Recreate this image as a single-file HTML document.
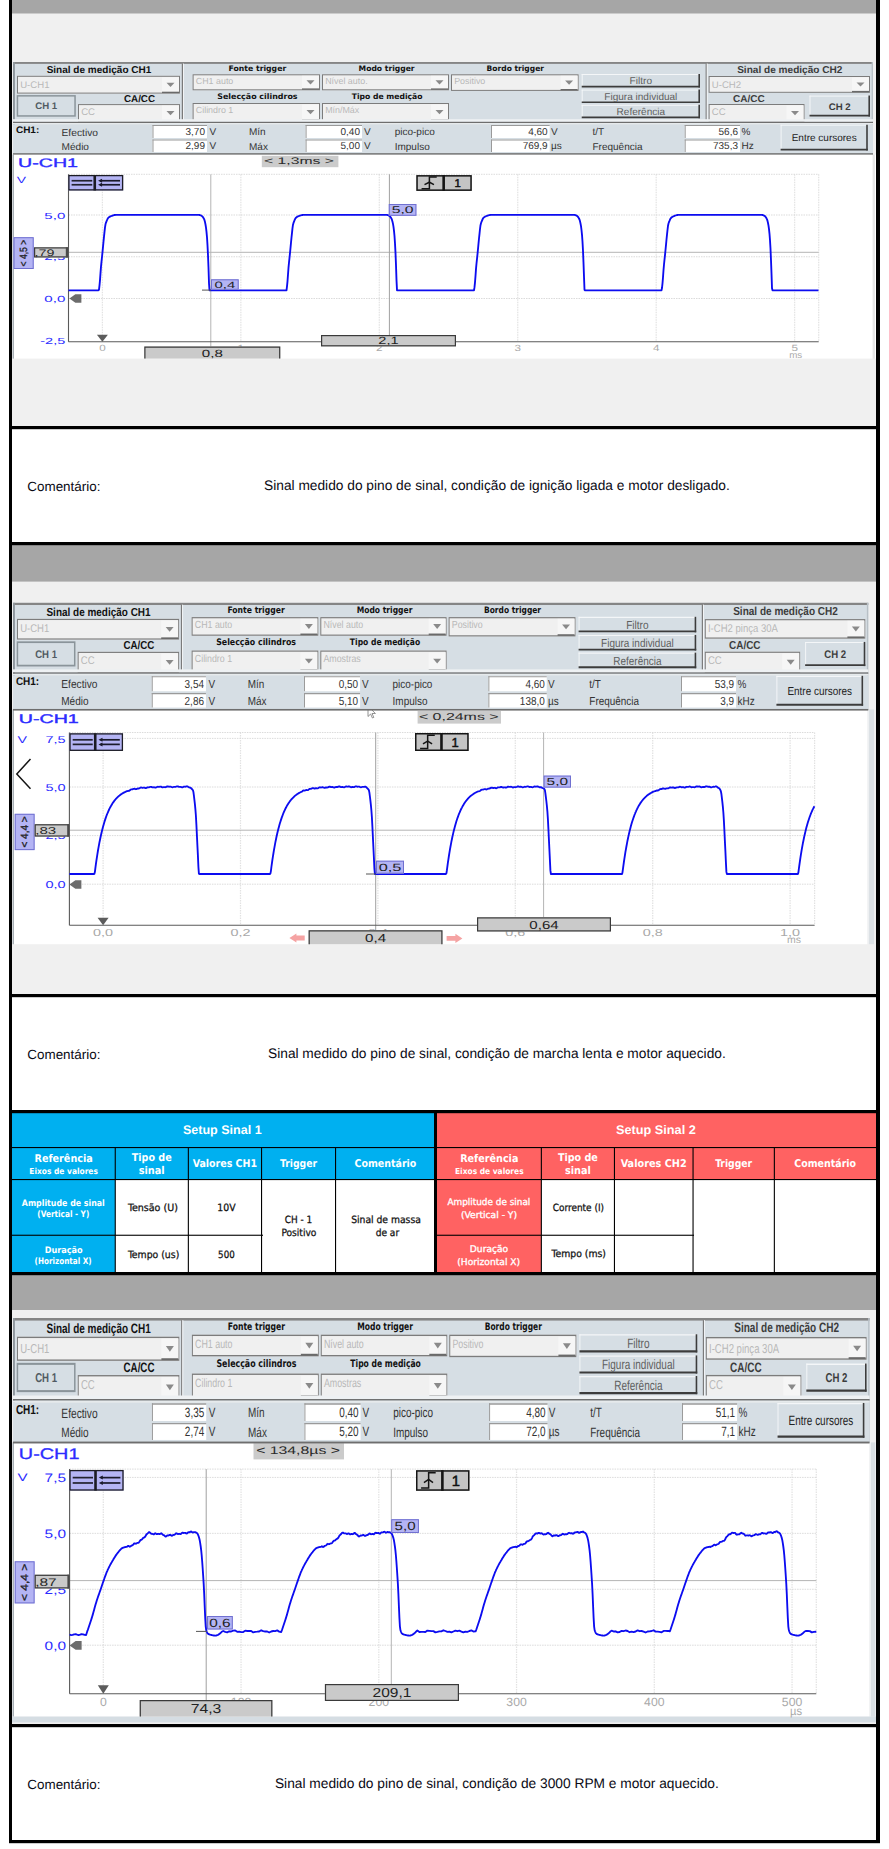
<!DOCTYPE html>
<html lang="pt"><head><meta charset="utf-8"><title>Sinal medido</title>
<style>
html,body{margin:0;padding:0;background:#fff;}
#pg{position:relative;width:889px;height:1849px;overflow:hidden;background:#fff;}
#pg svg{position:absolute;left:0;top:0;display:block;}

</style></head><body><div id="pg">
<svg width="889" height="1849" viewBox="0 0 889 1849" text-rendering="geometricPrecision">
<rect x="12.00" y="0.00" width="864.00" height="426.00" fill="#f0f0f0"/><rect x="12.00" y="0.00" width="864.00" height="13.50" fill="#a6a6a6"/><rect x="12.00" y="545.00" width="864.00" height="449.00" fill="#f0f0f0"/><rect x="12.00" y="545.00" width="864.00" height="36.60" fill="#a6a6a6"/><rect x="12.00" y="1275.00" width="864.00" height="449.00" fill="#f0f0f0"/><rect x="12.00" y="1275.00" width="864.00" height="35.00" fill="#a6a6a6"/><rect x="12.00" y="154.60" width="864.00" height="204.00" fill="#f0f0f0"/><rect x="14.00" y="154.60" width="858.70" height="204.00" fill="#ffffff"/><rect x="12.60" y="154.60" width="1.40" height="204.00" fill="#a8b0b6"/><rect x="872.70" y="154.60" width="2.30" height="204.00" fill="#e6e6e6"/><rect x="875.00" y="154.60" width="1.00" height="204.00" fill="#ffffff"/><line x1="68.50" y1="174.30" x2="818.70" y2="174.30" stroke="#cfcfcf" stroke-width="1" stroke-dasharray="1.5 1" stroke-opacity="0.75"/><line x1="68.50" y1="215.00" x2="818.70" y2="215.00" stroke="#cfcfcf" stroke-width="1" stroke-dasharray="1.5 1" stroke-opacity="0.75"/><line x1="68.50" y1="256.75" x2="818.70" y2="256.75" stroke="#cfcfcf" stroke-width="1" stroke-dasharray="1.5 1" stroke-opacity="0.75"/><line x1="68.50" y1="298.50" x2="818.70" y2="298.50" stroke="#cfcfcf" stroke-width="1" stroke-dasharray="1.5 1" stroke-opacity="0.75"/><line x1="102.40" y1="174.30" x2="102.40" y2="341.80" stroke="#d8d8d8" stroke-width="1.2" stroke-dasharray="1.5 1" stroke-opacity="0.75"/><line x1="240.85" y1="174.30" x2="240.85" y2="341.80" stroke="#d8d8d8" stroke-width="1.2" stroke-dasharray="1.5 1" stroke-opacity="0.75"/><line x1="379.30" y1="174.30" x2="379.30" y2="341.80" stroke="#d8d8d8" stroke-width="1.2" stroke-dasharray="1.5 1" stroke-opacity="0.75"/><line x1="517.75" y1="174.30" x2="517.75" y2="341.80" stroke="#d8d8d8" stroke-width="1.2" stroke-dasharray="1.5 1" stroke-opacity="0.75"/><line x1="656.20" y1="174.30" x2="656.20" y2="341.80" stroke="#d8d8d8" stroke-width="1.2" stroke-dasharray="1.5 1" stroke-opacity="0.75"/><line x1="794.65" y1="174.30" x2="794.65" y2="341.80" stroke="#d8d8d8" stroke-width="1.2" stroke-dasharray="1.5 1" stroke-opacity="0.75"/><line x1="818.70" y1="174.30" x2="818.70" y2="341.80" stroke="#d8d8d8" stroke-width="1.2" stroke-dasharray="1.5 1" stroke-opacity="0.75"/><line x1="68.50" y1="252.30" x2="818.70" y2="252.30" stroke="#b4b4b4" stroke-width="1"/><line x1="210.80" y1="174.30" x2="210.80" y2="346.50" stroke="#b4b4b4" stroke-width="1"/><line x1="389.40" y1="174.30" x2="389.40" y2="335.00" stroke="#a0a0a0" stroke-width="1"/><line x1="68.50" y1="174.30" x2="68.50" y2="341.80" stroke="#5a5a5a" stroke-width="1.1"/><line x1="68.50" y1="341.80" x2="818.70" y2="341.80" stroke="#5a5a5a" stroke-width="1.1"/><text x="18.00" y="166.80" font-size="12.3" fill="#2c2cff" font-family="Liberation Sans, Arial, sans-serif" textLength="60.00" lengthAdjust="spacingAndGlyphs" stroke="#2c2cff" stroke-width="0.35">U-CH1</text><rect x="261.80" y="155.80" width="76.60" height="11.40" fill="#cbcbcb"/><text x="264.00" y="164.40" font-size="9.5" fill="#2a2a2a" font-family="Liberation Sans, Arial, sans-serif" textLength="70.00" lengthAdjust="spacingAndGlyphs">&lt; 1,3ms &gt;</text><text x="16.70" y="183.00" font-size="9" fill="#2c2cff" font-family="Liberation Sans, Arial, sans-serif" textLength="9.30" lengthAdjust="spacingAndGlyphs">V</text><text x="65.30" y="218.57" font-size="8.8" fill="#2c2cff" font-family="Liberation Sans, Arial, sans-serif" text-anchor="end" textLength="21.00" lengthAdjust="spacingAndGlyphs">5,0</text><text x="65.30" y="260.32" font-size="8.8" fill="#2c2cff" font-family="Liberation Sans, Arial, sans-serif" text-anchor="end" textLength="21.00" lengthAdjust="spacingAndGlyphs">2,5</text><text x="65.30" y="301.87" font-size="8.8" fill="#2c2cff" font-family="Liberation Sans, Arial, sans-serif" text-anchor="end" textLength="21.00" lengthAdjust="spacingAndGlyphs">0,0</text><text x="65.30" y="343.77" font-size="8.8" fill="#2c2cff" font-family="Liberation Sans, Arial, sans-serif" text-anchor="end" textLength="25.00" lengthAdjust="spacingAndGlyphs">-2,5</text><text x="102.40" y="350.90" font-size="9" fill="#a9a9a9" font-family="Liberation Sans, Arial, sans-serif" text-anchor="middle" textLength="6.50" lengthAdjust="spacingAndGlyphs">0</text><text x="240.85" y="350.90" font-size="9" fill="#a9a9a9" font-family="Liberation Sans, Arial, sans-serif" text-anchor="middle" textLength="6.50" lengthAdjust="spacingAndGlyphs">1</text><text x="379.30" y="350.90" font-size="9" fill="#a9a9a9" font-family="Liberation Sans, Arial, sans-serif" text-anchor="middle" textLength="6.50" lengthAdjust="spacingAndGlyphs">2</text><text x="517.75" y="350.90" font-size="9" fill="#a9a9a9" font-family="Liberation Sans, Arial, sans-serif" text-anchor="middle" textLength="6.50" lengthAdjust="spacingAndGlyphs">3</text><text x="656.20" y="350.90" font-size="9" fill="#a9a9a9" font-family="Liberation Sans, Arial, sans-serif" text-anchor="middle" textLength="6.50" lengthAdjust="spacingAndGlyphs">4</text><text x="794.65" y="350.90" font-size="9" fill="#a9a9a9" font-family="Liberation Sans, Arial, sans-serif" text-anchor="middle" textLength="6.50" lengthAdjust="spacingAndGlyphs">5</text><text x="795.65" y="357.60" font-size="9" fill="#a9a9a9" font-family="Liberation Sans, Arial, sans-serif" text-anchor="middle" textLength="13.00" lengthAdjust="spacingAndGlyphs">ms</text><polyline points="68.5,290.3 69.0,290.3 69.5,290.3 70.0,290.3 70.5,290.3 71.0,290.3 71.5,290.3 72.0,290.3 72.5,290.3 73.0,290.3 73.5,290.3 74.0,290.3 74.5,290.3 75.0,290.3 75.5,290.3 76.0,290.3 76.5,290.3 77.0,290.3 77.5,290.3 78.0,290.3 78.5,290.3 79.0,290.3 79.5,290.3 80.0,290.3 80.5,290.3 81.0,290.3 81.5,290.3 82.0,290.3 82.5,290.3 83.0,290.3 83.5,290.3 84.0,290.3 84.5,290.3 85.0,290.3 85.5,290.3 86.0,290.3 86.5,290.3 87.0,290.3 87.5,290.3 88.0,290.3 88.5,290.3 89.0,290.3 89.5,290.3 90.0,290.3 90.5,290.3 91.0,290.3 91.5,290.3 92.0,290.3 92.5,290.3 93.0,290.3 93.5,290.3 94.0,290.3 94.5,290.3 95.0,290.3 95.5,290.3 96.0,290.3 96.5,290.3 97.0,290.3 97.5,290.3 98.0,290.3 98.5,290.3 99.0,289.6 99.5,285.3 100.0,280.1 100.5,273.1 101.0,266.6 101.5,261.6 102.0,257.0 102.5,252.1 103.0,246.9 103.5,241.6 104.0,236.6 104.5,231.9 105.0,227.3 105.5,224.3 106.0,222.6 106.5,221.3 107.0,220.2 107.5,219.0 108.0,218.2 108.5,217.7 109.0,217.2 109.5,216.9 110.0,216.6 110.5,216.4 111.0,216.2 111.5,216.0 112.0,215.8 112.5,215.6 113.0,215.4 113.5,215.3 114.0,215.1 114.5,215.0 115.0,215.0 115.5,214.9 116.0,214.9 116.5,214.9 117.0,214.9 117.5,214.9 118.0,214.9 118.5,214.9 119.0,214.9 119.5,214.9 120.0,214.9 120.5,214.9 121.0,214.9 121.5,214.9 122.0,214.9 122.5,214.9 123.0,214.9 123.5,214.9 124.0,214.9 124.5,214.9 125.0,214.9 125.5,214.9 126.0,214.9 126.5,214.9 127.0,214.9 127.5,214.9 128.0,214.9 128.5,214.9 129.0,214.9 129.5,214.9 130.0,214.9 130.5,214.9 131.0,214.9 131.5,214.9 132.0,214.9 132.5,214.9 133.0,214.9 133.5,214.9 134.0,214.9 134.5,214.9 135.0,214.9 135.5,214.9 136.0,214.9 136.5,214.9 137.0,214.9 137.5,214.9 138.0,214.9 138.5,214.9 139.0,214.9 139.5,214.9 140.0,214.9 140.5,214.9 141.0,214.9 141.5,214.9 142.0,214.9 142.5,214.9 143.0,214.9 143.5,214.9 144.0,214.9 144.5,214.9 145.0,214.9 145.5,214.9 146.0,214.9 146.5,214.9 147.0,214.9 147.5,214.9 148.0,214.9 148.5,214.9 149.0,214.9 149.5,214.9 150.0,214.9 150.5,214.9 151.0,214.9 151.5,214.9 152.0,214.9 152.5,214.9 153.0,214.9 153.5,214.9 154.0,214.9 154.5,214.9 155.0,214.9 155.5,214.9 156.0,214.9 156.5,214.9 157.0,214.9 157.5,214.9 158.0,214.9 158.5,214.9 159.0,214.9 159.5,214.9 160.0,214.9 160.5,214.9 161.0,214.9 161.5,214.9 162.0,214.9 162.5,214.9 163.0,214.9 163.5,214.9 164.0,214.9 164.5,214.9 165.0,214.9 165.5,214.9 166.0,214.9 166.5,214.9 167.0,214.9 167.5,214.9 168.0,214.9 168.5,214.9 169.0,214.9 169.5,214.9 170.0,214.9 170.5,214.9 171.0,214.9 171.5,214.9 172.0,214.9 172.5,214.9 173.0,214.9 173.5,214.9 174.0,214.9 174.5,214.9 175.0,214.9 175.5,214.9 176.0,214.9 176.5,214.9 177.0,214.9 177.5,214.9 178.0,214.9 178.5,214.9 179.0,214.9 179.5,214.9 180.0,214.9 180.5,214.9 181.0,214.9 181.5,214.9 182.0,214.9 182.5,214.9 183.0,214.9 183.5,214.9 184.0,214.9 184.5,214.9 185.0,214.9 185.5,214.9 186.0,214.9 186.5,214.9 187.0,214.9 187.5,214.9 188.0,214.9 188.5,214.9 189.0,214.9 189.5,214.9 190.0,214.9 190.5,214.9 191.0,214.9 191.5,214.9 192.0,214.9 192.5,214.9 193.0,214.9 193.5,214.9 194.0,214.9 194.5,214.9 195.0,214.9 195.5,214.9 196.0,214.9 196.5,214.9 197.0,214.9 197.5,214.9 198.0,214.9 198.5,214.9 199.0,214.9 199.5,215.0 200.0,215.1 200.5,215.3 201.0,215.5 201.5,215.7 202.0,216.1 202.5,216.6 203.0,217.2 203.5,218.0 204.0,218.9 204.5,220.2 205.0,222.1 205.5,224.5 206.0,227.6 206.5,231.8 207.0,237.3 207.5,245.2 208.0,255.3 208.5,267.7 209.0,283.3 209.5,290.3 210.0,290.3 210.5,290.3 211.0,290.3 211.5,290.3 212.0,290.3 212.5,290.3 213.0,290.3 213.5,290.3 214.0,290.3 214.5,290.3 215.0,290.3 215.5,290.3 216.0,290.3 216.5,290.3 217.0,290.3 217.5,290.3 218.0,290.3 218.5,290.3 219.0,290.3 219.5,290.3 220.0,290.3 220.5,290.3 221.0,290.3 221.5,290.3 222.0,290.3 222.5,290.3 223.0,290.3 223.5,290.3 224.0,290.3 224.5,290.3 225.0,290.3 225.5,290.3 226.0,290.3 226.5,290.3 227.0,290.3 227.5,290.3 228.0,290.3 228.5,290.3 229.0,290.3 229.5,290.3 230.0,290.3 230.5,290.3 231.0,290.3 231.5,290.3 232.0,290.3 232.5,290.3 233.0,290.3 233.5,290.3 234.0,290.3 234.5,290.3 235.0,290.3 235.5,290.3 236.0,290.3 236.5,290.3 237.0,290.3 237.5,290.3 238.0,290.3 238.5,290.3 239.0,290.3 239.5,290.3 240.0,290.3 240.5,290.3 241.0,290.3 241.5,290.3 242.0,290.3 242.5,290.3 243.0,290.3 243.5,290.3 244.0,290.3 244.5,290.3 245.0,290.3 245.5,290.3 246.0,290.3 246.5,290.3 247.0,290.3 247.5,290.3 248.0,290.3 248.5,290.3 249.0,290.3 249.5,290.3 250.0,290.3 250.5,290.3 251.0,290.3 251.5,290.3 252.0,290.3 252.5,290.3 253.0,290.3 253.5,290.3 254.0,290.3 254.5,290.3 255.0,290.3 255.5,290.3 256.0,290.3 256.5,290.3 257.0,290.3 257.5,290.3 258.0,290.3 258.5,290.3 259.0,290.3 259.5,290.3 260.0,290.3 260.5,290.3 261.0,290.3 261.5,290.3 262.0,290.3 262.5,290.3 263.0,290.3 263.5,290.3 264.0,290.3 264.5,290.3 265.0,290.3 265.5,290.3 266.0,290.3 266.5,290.3 267.0,290.3 267.5,290.3 268.0,290.3 268.5,290.3 269.0,290.3 269.5,290.3 270.0,290.3 270.5,290.3 271.0,290.3 271.5,290.3 272.0,290.3 272.5,290.3 273.0,290.3 273.5,290.3 274.0,290.3 274.5,290.3 275.0,290.3 275.5,290.3 276.0,290.3 276.5,290.3 277.0,290.3 277.5,290.3 278.0,290.3 278.5,290.3 279.0,290.3 279.5,290.3 280.0,290.3 280.5,290.3 281.0,290.3 281.5,290.3 282.0,290.3 282.5,290.3 283.0,290.3 283.5,290.3 284.0,290.3 284.5,290.3 285.0,290.3 285.5,290.3 286.0,290.3 286.5,290.3 287.0,286.3 287.5,281.3 288.0,274.5 288.5,267.7 289.0,262.5 289.5,257.9 290.0,253.1 290.5,247.9 291.0,242.7 291.5,237.5 292.0,232.8 292.5,228.1 293.0,224.7 293.5,222.9 294.0,221.6 294.5,220.4 295.0,219.2 295.5,218.3 296.0,217.7 296.5,217.3 297.0,216.9 297.5,216.6 298.0,216.4 298.5,216.2 299.0,216.0 299.5,215.8 300.0,215.6 300.5,215.4 301.0,215.3 301.5,215.2 302.0,215.0 302.5,215.0 303.0,214.9 303.5,214.9 304.0,214.9 304.5,214.9 305.0,214.9 305.5,214.9 306.0,214.9 306.5,214.9 307.0,214.9 307.5,214.9 308.0,214.9 308.5,214.9 309.0,214.9 309.5,214.9 310.0,214.9 310.5,214.9 311.0,214.9 311.5,214.9 312.0,214.9 312.5,214.9 313.0,214.9 313.5,214.9 314.0,214.9 314.5,214.9 315.0,214.9 315.5,214.9 316.0,214.9 316.5,214.9 317.0,214.9 317.5,214.9 318.0,214.9 318.5,214.9 319.0,214.9 319.5,214.9 320.0,214.9 320.5,214.9 321.0,214.9 321.5,214.9 322.0,214.9 322.5,214.9 323.0,214.9 323.5,214.9 324.0,214.9 324.5,214.9 325.0,214.9 325.5,214.9 326.0,214.9 326.5,214.9 327.0,214.9 327.5,214.9 328.0,214.9 328.5,214.9 329.0,214.9 329.5,214.9 330.0,214.9 330.5,214.9 331.0,214.9 331.5,214.9 332.0,214.9 332.5,214.9 333.0,214.9 333.5,214.9 334.0,214.9 334.5,214.9 335.0,214.9 335.5,214.9 336.0,214.9 336.5,214.9 337.0,214.9 337.5,214.9 338.0,214.9 338.5,214.9 339.0,214.9 339.5,214.9 340.0,214.9 340.5,214.9 341.0,214.9 341.5,214.9 342.0,214.9 342.5,214.9 343.0,214.9 343.5,214.9 344.0,214.9 344.5,214.9 345.0,214.9 345.5,214.9 346.0,214.9 346.5,214.9 347.0,214.9 347.5,214.9 348.0,214.9 348.5,214.9 349.0,214.9 349.5,214.9 350.0,214.9 350.5,214.9 351.0,214.9 351.5,214.9 352.0,214.9 352.5,214.9 353.0,214.9 353.5,214.9 354.0,214.9 354.5,214.9 355.0,214.9 355.5,214.9 356.0,214.9 356.5,214.9 357.0,214.9 357.5,214.9 358.0,214.9 358.5,214.9 359.0,214.9 359.5,214.9 360.0,214.9 360.5,214.9 361.0,214.9 361.5,214.9 362.0,214.9 362.5,214.9 363.0,214.9 363.5,214.9 364.0,214.9 364.5,214.9 365.0,214.9 365.5,214.9 366.0,214.9 366.5,214.9 367.0,214.9 367.5,214.9 368.0,214.9 368.5,214.9 369.0,214.9 369.5,214.9 370.0,214.9 370.5,214.9 371.0,214.9 371.5,214.9 372.0,214.9 372.5,214.9 373.0,214.9 373.5,214.9 374.0,214.9 374.5,214.9 375.0,214.9 375.5,214.9 376.0,214.9 376.5,214.9 377.0,214.9 377.5,214.9 378.0,214.9 378.5,214.9 379.0,214.9 379.5,214.9 380.0,214.9 380.5,214.9 381.0,214.9 381.5,214.9 382.0,214.9 382.5,214.9 383.0,214.9 383.5,214.9 384.0,214.9 384.5,214.9 385.0,214.9 385.5,214.9 386.0,214.9 386.5,214.9 387.0,214.9 387.5,215.0 388.0,215.2 388.5,215.4 389.0,215.7 389.5,216.0 390.0,216.4 390.5,217.0 391.0,217.8 391.5,218.7 392.0,219.9 392.5,221.7 393.0,223.9 393.5,226.9 394.0,230.9 394.5,236.0 395.0,243.5 395.5,252.9 396.0,265.2 396.5,280.1 397.0,290.3 397.5,290.3 398.0,290.3 398.5,290.3 399.0,290.3 399.5,290.3 400.0,290.3 400.5,290.3 401.0,290.3 401.5,290.3 402.0,290.3 402.5,290.3 403.0,290.3 403.5,290.3 404.0,290.3 404.5,290.3 405.0,290.3 405.5,290.3 406.0,290.3 406.5,290.3 407.0,290.3 407.5,290.3 408.0,290.3 408.5,290.3 409.0,290.3 409.5,290.3 410.0,290.3 410.5,290.3 411.0,290.3 411.5,290.3 412.0,290.3 412.5,290.3 413.0,290.3 413.5,290.3 414.0,290.3 414.5,290.3 415.0,290.3 415.5,290.3 416.0,290.3 416.5,290.3 417.0,290.3 417.5,290.3 418.0,290.3 418.5,290.3 419.0,290.3 419.5,290.3 420.0,290.3 420.5,290.3 421.0,290.3 421.5,290.3 422.0,290.3 422.5,290.3 423.0,290.3 423.5,290.3 424.0,290.3 424.5,290.3 425.0,290.3 425.5,290.3 426.0,290.3 426.5,290.3 427.0,290.3 427.5,290.3 428.0,290.3 428.5,290.3 429.0,290.3 429.5,290.3 430.0,290.3 430.5,290.3 431.0,290.3 431.5,290.3 432.0,290.3 432.5,290.3 433.0,290.3 433.5,290.3 434.0,290.3 434.5,290.3 435.0,290.3 435.5,290.3 436.0,290.3 436.5,290.3 437.0,290.3 437.5,290.3 438.0,290.3 438.5,290.3 439.0,290.3 439.5,290.3 440.0,290.3 440.5,290.3 441.0,290.3 441.5,290.3 442.0,290.3 442.5,290.3 443.0,290.3 443.5,290.3 444.0,290.3 444.5,290.3 445.0,290.3 445.5,290.3 446.0,290.3 446.5,290.3 447.0,290.3 447.5,290.3 448.0,290.3 448.5,290.3 449.0,290.3 449.5,290.3 450.0,290.3 450.5,290.3 451.0,290.3 451.5,290.3 452.0,290.3 452.5,290.3 453.0,290.3 453.5,290.3 454.0,290.3 454.5,290.3 455.0,290.3 455.5,290.3 456.0,290.3 456.5,290.3 457.0,290.3 457.5,290.3 458.0,290.3 458.5,290.3 459.0,290.3 459.5,290.3 460.0,290.3 460.5,290.3 461.0,290.3 461.5,290.3 462.0,290.3 462.5,290.3 463.0,290.3 463.5,290.3 464.0,290.3 464.5,290.3 465.0,290.3 465.5,290.3 466.0,290.3 466.5,290.3 467.0,290.3 467.5,290.3 468.0,290.3 468.5,290.3 469.0,290.3 469.5,290.3 470.0,290.3 470.5,290.3 471.0,290.3 471.5,290.3 472.0,290.3 472.5,290.3 473.0,290.3 473.5,290.3 474.0,290.3 474.5,287.2 475.0,282.3 475.5,276.0 476.0,268.9 476.5,263.5 477.0,258.8 477.5,254.1 478.0,249.0 478.5,243.7 479.0,238.5 479.5,233.8 480.0,229.0 480.5,225.2 481.0,223.2 481.5,221.8 482.0,220.6 482.5,219.5 483.0,218.4 483.5,217.8 484.0,217.4 484.5,217.0 485.0,216.7 485.5,216.5 486.0,216.2 486.5,216.0 487.0,215.8 487.5,215.6 488.0,215.5 488.5,215.3 489.0,215.2 489.5,215.1 490.0,215.0 490.5,214.9 491.0,214.9 491.5,214.9 492.0,214.9 492.5,214.9 493.0,214.9 493.5,214.9 494.0,214.9 494.5,214.9 495.0,214.9 495.5,214.9 496.0,214.9 496.5,214.9 497.0,214.9 497.5,214.9 498.0,214.9 498.5,214.9 499.0,214.9 499.5,214.9 500.0,214.9 500.5,214.9 501.0,214.9 501.5,214.9 502.0,214.9 502.5,214.9 503.0,214.9 503.5,214.9 504.0,214.9 504.5,214.9 505.0,214.9 505.5,214.9 506.0,214.9 506.5,214.9 507.0,214.9 507.5,214.9 508.0,214.9 508.5,214.9 509.0,214.9 509.5,214.9 510.0,214.9 510.5,214.9 511.0,214.9 511.5,214.9 512.0,214.9 512.5,214.9 513.0,214.9 513.5,214.9 514.0,214.9 514.5,214.9 515.0,214.9 515.5,214.9 516.0,214.9 516.5,214.9 517.0,214.9 517.5,214.9 518.0,214.9 518.5,214.9 519.0,214.9 519.5,214.9 520.0,214.9 520.5,214.9 521.0,214.9 521.5,214.9 522.0,214.9 522.5,214.9 523.0,214.9 523.5,214.9 524.0,214.9 524.5,214.9 525.0,214.9 525.5,214.9 526.0,214.9 526.5,214.9 527.0,214.9 527.5,214.9 528.0,214.9 528.5,214.9 529.0,214.9 529.5,214.9 530.0,214.9 530.5,214.9 531.0,214.9 531.5,214.9 532.0,214.9 532.5,214.9 533.0,214.9 533.5,214.9 534.0,214.9 534.5,214.9 535.0,214.9 535.5,214.9 536.0,214.9 536.5,214.9 537.0,214.9 537.5,214.9 538.0,214.9 538.5,214.9 539.0,214.9 539.5,214.9 540.0,214.9 540.5,214.9 541.0,214.9 541.5,214.9 542.0,214.9 542.5,214.9 543.0,214.9 543.5,214.9 544.0,214.9 544.5,214.9 545.0,214.9 545.5,214.9 546.0,214.9 546.5,214.9 547.0,214.9 547.5,214.9 548.0,214.9 548.5,214.9 549.0,214.9 549.5,214.9 550.0,214.9 550.5,214.9 551.0,214.9 551.5,214.9 552.0,214.9 552.5,214.9 553.0,214.9 553.5,214.9 554.0,214.9 554.5,214.9 555.0,214.9 555.5,214.9 556.0,214.9 556.5,214.9 557.0,214.9 557.5,214.9 558.0,214.9 558.5,214.9 559.0,214.9 559.5,214.9 560.0,214.9 560.5,214.9 561.0,214.9 561.5,214.9 562.0,214.9 562.5,214.9 563.0,214.9 563.5,214.9 564.0,214.9 564.5,214.9 565.0,214.9 565.5,214.9 566.0,214.9 566.5,214.9 567.0,214.9 567.5,214.9 568.0,214.9 568.5,214.9 569.0,214.9 569.5,214.9 570.0,214.9 570.5,214.9 571.0,214.9 571.5,214.9 572.0,214.9 572.5,214.9 573.0,214.9 573.5,214.9 574.0,214.9 574.5,214.9 575.0,215.0 575.5,215.2 576.0,215.4 576.5,215.6 577.0,215.9 577.5,216.3 578.0,216.9 578.5,217.6 579.0,218.5 579.5,219.6 580.0,221.3 580.5,223.5 581.0,226.2 581.5,230.0 582.0,234.8 582.5,241.8 583.0,250.8 583.5,262.7 584.0,276.8 584.5,289.8 585.0,290.3 585.5,290.3 586.0,290.3 586.5,290.3 587.0,290.3 587.5,290.3 588.0,290.3 588.5,290.3 589.0,290.3 589.5,290.3 590.0,290.3 590.5,290.3 591.0,290.3 591.5,290.3 592.0,290.3 592.5,290.3 593.0,290.3 593.5,290.3 594.0,290.3 594.5,290.3 595.0,290.3 595.5,290.3 596.0,290.3 596.5,290.3 597.0,290.3 597.5,290.3 598.0,290.3 598.5,290.3 599.0,290.3 599.5,290.3 600.0,290.3 600.5,290.3 601.0,290.3 601.5,290.3 602.0,290.3 602.5,290.3 603.0,290.3 603.5,290.3 604.0,290.3 604.5,290.3 605.0,290.3 605.5,290.3 606.0,290.3 606.5,290.3 607.0,290.3 607.5,290.3 608.0,290.3 608.5,290.3 609.0,290.3 609.5,290.3 610.0,290.3 610.5,290.3 611.0,290.3 611.5,290.3 612.0,290.3 612.5,290.3 613.0,290.3 613.5,290.3 614.0,290.3 614.5,290.3 615.0,290.3 615.5,290.3 616.0,290.3 616.5,290.3 617.0,290.3 617.5,290.3 618.0,290.3 618.5,290.3 619.0,290.3 619.5,290.3 620.0,290.3 620.5,290.3 621.0,290.3 621.5,290.3 622.0,290.3 622.5,290.3 623.0,290.3 623.5,290.3 624.0,290.3 624.5,290.3 625.0,290.3 625.5,290.3 626.0,290.3 626.5,290.3 627.0,290.3 627.5,290.3 628.0,290.3 628.5,290.3 629.0,290.3 629.5,290.3 630.0,290.3 630.5,290.3 631.0,290.3 631.5,290.3 632.0,290.3 632.5,290.3 633.0,290.3 633.5,290.3 634.0,290.3 634.5,290.3 635.0,290.3 635.5,290.3 636.0,290.3 636.5,290.3 637.0,290.3 637.5,290.3 638.0,290.3 638.5,290.3 639.0,290.3 639.5,290.3 640.0,290.3 640.5,290.3 641.0,290.3 641.5,290.3 642.0,290.3 642.5,290.3 643.0,290.3 643.5,290.3 644.0,290.3 644.5,290.3 645.0,290.3 645.5,290.3 646.0,290.3 646.5,290.3 647.0,290.3 647.5,290.3 648.0,290.3 648.5,290.3 649.0,290.3 649.5,290.3 650.0,290.3 650.5,290.3 651.0,290.3 651.5,290.3 652.0,290.3 652.5,290.3 653.0,290.3 653.5,290.3 654.0,290.3 654.5,290.3 655.0,290.3 655.5,290.3 656.0,290.3 656.5,290.3 657.0,290.3 657.5,290.3 658.0,290.3 658.5,290.3 659.0,290.3 659.5,290.3 660.0,290.3 660.5,290.3 661.0,290.3 661.5,290.3 662.0,288.0 662.5,283.4 663.0,277.4 663.5,270.2 664.0,264.5 664.5,259.7 665.0,255.1 665.5,250.0 666.0,244.8 666.5,239.5 667.0,234.7 667.5,230.0 668.0,225.8 668.5,223.5 669.0,222.0 669.5,220.9 670.0,219.7 670.5,218.6 671.0,218.0 671.5,217.5 672.0,217.1 672.5,216.8 673.0,216.5 673.5,216.3 674.0,216.1 674.5,215.9 675.0,215.7 675.5,215.5 676.0,215.3 676.5,215.2 677.0,215.1 677.5,215.0 678.0,214.9 678.5,214.9 679.0,214.9 679.5,214.9 680.0,214.9 680.5,214.9 681.0,214.9 681.5,214.9 682.0,214.9 682.5,214.9 683.0,214.9 683.5,214.9 684.0,214.9 684.5,214.9 685.0,214.9 685.5,214.9 686.0,214.9 686.5,214.9 687.0,214.9 687.5,214.9 688.0,214.9 688.5,214.9 689.0,214.9 689.5,214.9 690.0,214.9 690.5,214.9 691.0,214.9 691.5,214.9 692.0,214.9 692.5,214.9 693.0,214.9 693.5,214.9 694.0,214.9 694.5,214.9 695.0,214.9 695.5,214.9 696.0,214.9 696.5,214.9 697.0,214.9 697.5,214.9 698.0,214.9 698.5,214.9 699.0,214.9 699.5,214.9 700.0,214.9 700.5,214.9 701.0,214.9 701.5,214.9 702.0,214.9 702.5,214.9 703.0,214.9 703.5,214.9 704.0,214.9 704.5,214.9 705.0,214.9 705.5,214.9 706.0,214.9 706.5,214.9 707.0,214.9 707.5,214.9 708.0,214.9 708.5,214.9 709.0,214.9 709.5,214.9 710.0,214.9 710.5,214.9 711.0,214.9 711.5,214.9 712.0,214.9 712.5,214.9 713.0,214.9 713.5,214.9 714.0,214.9 714.5,214.9 715.0,214.9 715.5,214.9 716.0,214.9 716.5,214.9 717.0,214.9 717.5,214.9 718.0,214.9 718.5,214.9 719.0,214.9 719.5,214.9 720.0,214.9 720.5,214.9 721.0,214.9 721.5,214.9 722.0,214.9 722.5,214.9 723.0,214.9 723.5,214.9 724.0,214.9 724.5,214.9 725.0,214.9 725.5,214.9 726.0,214.9 726.5,214.9 727.0,214.9 727.5,214.9 728.0,214.9 728.5,214.9 729.0,214.9 729.5,214.9 730.0,214.9 730.5,214.9 731.0,214.9 731.5,214.9 732.0,214.9 732.5,214.9 733.0,214.9 733.5,214.9 734.0,214.9 734.5,214.9 735.0,214.9 735.5,214.9 736.0,214.9 736.5,214.9 737.0,214.9 737.5,214.9 738.0,214.9 738.5,214.9 739.0,214.9 739.5,214.9 740.0,214.9 740.5,214.9 741.0,214.9 741.5,214.9 742.0,214.9 742.5,214.9 743.0,214.9 743.5,214.9 744.0,214.9 744.5,214.9 745.0,214.9 745.5,214.9 746.0,214.9 746.5,214.9 747.0,214.9 747.5,214.9 748.0,214.9 748.5,214.9 749.0,214.9 749.5,214.9 750.0,214.9 750.5,214.9 751.0,214.9 751.5,214.9 752.0,214.9 752.5,214.9 753.0,214.9 753.5,214.9 754.0,214.9 754.5,214.9 755.0,214.9 755.5,214.9 756.0,214.9 756.5,214.9 757.0,214.9 757.5,214.9 758.0,214.9 758.5,214.9 759.0,214.9 759.5,214.9 760.0,214.9 760.5,214.9 761.0,214.9 761.5,214.9 762.0,214.9 762.5,215.0 763.0,215.1 763.5,215.3 764.0,215.6 764.5,215.8 765.0,216.2 765.5,216.8 766.0,217.5 766.5,218.3 767.0,219.3 767.5,220.9 768.0,223.0 768.5,225.6 769.0,229.2 769.5,233.8 770.0,240.2 770.5,248.8 771.0,260.2 771.5,273.5 772.0,288.3 772.5,290.3 773.0,290.3 773.5,290.3 774.0,290.3 774.5,290.3 775.0,290.3 775.5,290.3 776.0,290.3 776.5,290.3 777.0,290.3 777.5,290.3 778.0,290.3 778.5,290.3 779.0,290.3 779.5,290.3 780.0,290.3 780.5,290.3 781.0,290.3 781.5,290.3 782.0,290.3 782.5,290.3 783.0,290.3 783.5,290.3 784.0,290.3 784.5,290.3 785.0,290.3 785.5,290.3 786.0,290.3 786.5,290.3 787.0,290.3 787.5,290.3 788.0,290.3 788.5,290.3 789.0,290.3 789.5,290.3 790.0,290.3 790.5,290.3 791.0,290.3 791.5,290.3 792.0,290.3 792.5,290.3 793.0,290.3 793.5,290.3 794.0,290.3 794.5,290.3 795.0,290.3 795.5,290.3 796.0,290.3 796.5,290.3 797.0,290.3 797.5,290.3 798.0,290.3 798.5,290.3 799.0,290.3 799.5,290.3 800.0,290.3 800.5,290.3 801.0,290.3 801.5,290.3 802.0,290.3 802.5,290.3 803.0,290.3 803.5,290.3 804.0,290.3 804.5,290.3 805.0,290.3 805.5,290.3 806.0,290.3 806.5,290.3 807.0,290.3 807.5,290.3 808.0,290.3 808.5,290.3 809.0,290.3 809.5,290.3 810.0,290.3 810.5,290.3 811.0,290.3 811.5,290.3 812.0,290.3 812.5,290.3 813.0,290.3 813.5,290.3 814.0,290.3 814.5,290.3 815.0,290.3 815.5,290.3 816.0,290.3 816.5,290.3 817.0,290.3 817.5,290.3 818.0,290.3 818.5,290.3" fill="none" stroke="#0c0cf0" stroke-width="1.85" stroke-linejoin="round"/><polygon points="69.40,298.50 75.40,294.20 81.40,294.20 81.40,302.80 75.40,302.80" fill="#6c6c6c"/><polygon points="96.90,334.80 107.90,334.80 102.40,341.80" fill="#5c5c5c"/><rect x="68.30" y="175.00" width="54.90" height="15.50" fill="#b4b4f4"/><rect x="68.90" y="175.60" width="53.70" height="14.30" fill="none" stroke="#1c1c24" stroke-width="1.3"/><rect x="93.45" y="175.00" width="2.60" height="15.50" fill="#1c1c24"/><line x1="71.60" y1="180.74" x2="92.25" y2="180.74" stroke="#22222e" stroke-width="1.7"/><line x1="71.60" y1="184.76" x2="92.25" y2="184.76" stroke="#22222e" stroke-width="1.7"/><line x1="100.05" y1="180.74" x2="120.00" y2="180.74" stroke="#1a1a2a" stroke-width="1.7"/><line x1="100.05" y1="184.76" x2="120.00" y2="184.76" stroke="#1a1a2a" stroke-width="1.7"/><polygon points="98.05,180.74 102.05,178.74 102.05,182.74" fill="#1a1a2a"/><polygon points="98.05,184.76 102.05,182.76 102.05,186.76" fill="#1a1a2a"/><rect x="416.30" y="175.10" width="55.50" height="15.80" fill="#c4c4c4"/><rect x="417.05" y="175.85" width="54.00" height="14.30" fill="none" stroke="#151515" stroke-width="1.5"/><rect x="442.36" y="175.10" width="2.60" height="15.80" fill="#151515"/><polyline points="421.57,188.69 429.40,188.69 429.40,177.00 436.72,177.00" fill="none" stroke="#151515" stroke-width="1.5"/><polyline points="424.51,184.58 429.40,182.21 433.95,184.58" fill="none" stroke="#151515" stroke-width="1.5"/><text x="457.65" y="187.11" font-size="11.376" fill="#111" font-family="Liberation Sans, Arial, sans-serif" text-anchor="middle" stroke="#111" stroke-width="0.5">1</text><rect x="13.50" y="237.20" width="20.20" height="31.80" fill="#b4b4f4"/><rect x="14.00" y="237.70" width="19.20" height="30.80" fill="none" stroke="#7070d0" stroke-width="1"/><text x="0" y="0" font-size="10.5" fill="#222" stroke="#222" stroke-width="0.3" font-family="Liberation Sans, Arial, sans-serif" text-anchor="middle" transform="translate(27.40 253.10) rotate(-90)" textLength="26.80" lengthAdjust="spacingAndGlyphs">&lt; 4,5 &gt;</text><rect x="34.00" y="247.30" width="33.90" height="10.20" fill="#cacaca"/><rect x="34.60" y="247.90" width="32.70" height="9.00" fill="none" stroke="#3a3a3a" stroke-width="1.2"/><text x="50.95" y="255.82" font-size="9.5" fill="#222" font-family="Liberation Sans, Arial, sans-serif" text-anchor="middle"></text><rect x="65.80" y="247.30" width="2.20" height="10.20" fill="#4a4a4a"/><text x="34.60" y="255.80" font-size="9.5" fill="#2a2a2a" font-family="Liberation Sans, Arial, sans-serif" textLength="20.00" lengthAdjust="spacingAndGlyphs">,79</text><line x1="202.00" y1="290.10" x2="211.00" y2="290.10" stroke="#555" stroke-width="1"/><rect x="211.00" y="279.30" width="27.70" height="10.50" fill="#b4b4f4"/><rect x="211.50" y="279.80" width="26.70" height="9.50" fill="none" stroke="#7070d0" stroke-width="1"/><text x="224.85" y="287.86" font-size="9.2" fill="#222" font-family="Liberation Sans, Arial, sans-serif" text-anchor="middle" textLength="20.70" lengthAdjust="spacingAndGlyphs">0,4</text><rect x="388.80" y="204.00" width="27.60" height="11.80" fill="#b4b4f4"/><rect x="389.30" y="204.50" width="26.60" height="10.80" fill="none" stroke="#7070d0" stroke-width="1"/><text x="402.60" y="213.43" font-size="9.8" fill="#222" font-family="Liberation Sans, Arial, sans-serif" text-anchor="middle" textLength="21.90" lengthAdjust="spacingAndGlyphs">5,0</text><rect x="321.00" y="335.00" width="135.00" height="11.40" fill="#cacaca"/><rect x="321.60" y="335.60" width="133.80" height="10.20" fill="none" stroke="#3a3a3a" stroke-width="1.2"/><text x="388.50" y="344.48" font-size="10.5" fill="#222" font-family="Liberation Sans, Arial, sans-serif" text-anchor="middle" textLength="20.30" lengthAdjust="spacingAndGlyphs">2,1</text><rect x="144.30" y="346.50" width="136.00" height="12.10" fill="#cacaca"/><path d="M144.90 358.60 V347.10 H279.70 V358.60" fill="none" stroke="#3a3a3a" stroke-width="1.2"/><text x="212.30" y="356.79" font-size="10.5" fill="#222" font-family="Liberation Sans, Arial, sans-serif" text-anchor="middle" textLength="21.00" lengthAdjust="spacingAndGlyphs">0,8</text><g transform="translate(14 62.00) scale(1.0000 1.0000) translate(-14 0)"><rect x="13.00" y="0.00" width="860.00" height="92.00" fill="#d6dee4"/><rect x="13.00" y="0.00" width="860.00" height="1.90" fill="#858585"/><rect x="13.00" y="0.00" width="1.90" height="92.00" fill="#8e969c"/><rect x="871.60" y="0.00" width="1.40" height="92.00" fill="#b8c0c6"/><rect x="181.80" y="1.60" width="1.20" height="57.00" fill="#7a7a7a"/><rect x="183.00" y="1.60" width="1.00" height="57.00" fill="#f2f4f6"/><rect x="705.60" y="1.60" width="1.20" height="57.00" fill="#7a7a7a"/><rect x="706.80" y="1.60" width="1.00" height="57.00" fill="#f2f4f6"/><text x="99.00" y="11.20" font-size="10" fill="#111" font-family="Liberation Sans, Arial, sans-serif" font-weight="bold" text-anchor="middle" textLength="104.70" lengthAdjust="spacingAndGlyphs">Sinal de medição CH1</text><text x="257.40" y="8.80" font-size="7.7" fill="#111" font-family="DejaVu Sans, Verdana, sans-serif" font-weight="bold" text-anchor="middle" textLength="57.60" lengthAdjust="spacingAndGlyphs">Fonte trigger</text><text x="386.60" y="8.80" font-size="7.7" fill="#111" font-family="DejaVu Sans, Verdana, sans-serif" font-weight="bold" text-anchor="middle" textLength="56.00" lengthAdjust="spacingAndGlyphs">Modo trigger</text><text x="515.30" y="8.80" font-size="7.7" fill="#111" font-family="DejaVu Sans, Verdana, sans-serif" font-weight="bold" text-anchor="middle" textLength="57.40" lengthAdjust="spacingAndGlyphs">Bordo trigger</text><text x="789.80" y="10.60" font-size="10" fill="#3c3c3c" font-family="Liberation Sans, Arial, sans-serif" font-weight="bold" text-anchor="middle" textLength="105.30" lengthAdjust="spacingAndGlyphs">Sinal de medição CH2</text><rect x="17.00" y="13.80" width="163.00" height="17.80" fill="#f0f0f0"/><rect x="17.50" y="14.30" width="162.00" height="16.80" fill="none" stroke="#7c7c7c" stroke-width="1"/><rect x="162.00" y="15.30" width="17.00" height="14.80" fill="#f6f6f6"/><line x1="162.00" y1="30.40" x2="179.00" y2="30.40" stroke="#6a6a6a" stroke-width="1.4"/><polygon points="166.50,20.70 174.50,20.70 170.50,24.90" fill="#8a8a8a"/><text x="20.20" y="25.50" font-size="9.6" fill="#b8b8b8" font-family="Liberation Sans, Arial, sans-serif">U-CH1</text><rect x="192.60" y="12.30" width="127.40" height="16.00" fill="#f0f0f0"/><rect x="193.10" y="12.80" width="126.40" height="15.00" fill="none" stroke="#7c7c7c" stroke-width="1"/><rect x="302.00" y="13.80" width="17.00" height="13.00" fill="#f6f6f6"/><line x1="302.00" y1="27.10" x2="319.00" y2="27.10" stroke="#6a6a6a" stroke-width="1.4"/><polygon points="306.50,18.30 314.50,18.30 310.50,22.50" fill="#8a8a8a"/><text x="195.80" y="21.90" font-size="8.9" fill="#b8b8b8" font-family="Liberation Sans, Arial, sans-serif">CH1 auto</text><rect x="322.00" y="12.30" width="127.00" height="16.00" fill="#f0f0f0"/><rect x="322.50" y="12.80" width="126.00" height="15.00" fill="none" stroke="#7c7c7c" stroke-width="1"/><rect x="431.00" y="13.80" width="17.00" height="13.00" fill="#f6f6f6"/><line x1="431.00" y1="27.10" x2="448.00" y2="27.10" stroke="#6a6a6a" stroke-width="1.4"/><polygon points="435.50,18.30 443.50,18.30 439.50,22.50" fill="#8a8a8a"/><text x="325.20" y="21.90" font-size="8.9" fill="#b8b8b8" font-family="Liberation Sans, Arial, sans-serif">Nível auto.</text><rect x="451.00" y="12.30" width="127.60" height="16.60" fill="#f0f0f0"/><rect x="451.50" y="12.80" width="126.60" height="15.60" fill="none" stroke="#7c7c7c" stroke-width="1"/><rect x="560.60" y="13.80" width="17.00" height="13.60" fill="#f6f6f6"/><line x1="560.60" y1="27.70" x2="577.60" y2="27.70" stroke="#6a6a6a" stroke-width="1.4"/><polygon points="565.10,18.60 573.10,18.60 569.10,22.80" fill="#8a8a8a"/><text x="454.20" y="21.90" font-size="8.9" fill="#b8b8b8" font-family="Liberation Sans, Arial, sans-serif">Positivo</text><rect x="708.60" y="14.00" width="161.40" height="16.80" fill="#f0f0f0"/><rect x="709.10" y="14.50" width="160.40" height="15.80" fill="none" stroke="#7c7c7c" stroke-width="1"/><rect x="852.00" y="15.50" width="17.00" height="13.80" fill="#f6f6f6"/><line x1="852.00" y1="29.60" x2="869.00" y2="29.60" stroke="#6a6a6a" stroke-width="1.4"/><polygon points="856.50,20.40 864.50,20.40 860.50,24.60" fill="#8a8a8a"/><text x="711.80" y="25.50" font-size="9.6" fill="#b8b8b8" font-family="Liberation Sans, Arial, sans-serif">U-CH2</text><rect x="581.70" y="12.00" width="118.30" height="13.40" fill="#d6dee4"/><line x1="581.70" y1="12.50" x2="700.00" y2="12.50" stroke="#f4f6f8" stroke-width="1"/><line x1="582.20" y1="12.00" x2="582.20" y2="25.40" stroke="#f4f6f8" stroke-width="1"/><line x1="581.70" y1="24.60" x2="700.00" y2="24.60" stroke="#3c3c3c" stroke-width="1.6"/><line x1="699.20" y1="12.00" x2="699.20" y2="25.40" stroke="#3c3c3c" stroke-width="1.6"/><text x="640.85" y="22.30" font-size="10" fill="#5e5e5e" font-family="Liberation Sans, Arial, sans-serif" text-anchor="middle" textLength="22.50" lengthAdjust="spacingAndGlyphs">Filtro</text><rect x="581.70" y="27.60" width="118.30" height="13.40" fill="#d6dee4"/><line x1="581.70" y1="28.10" x2="700.00" y2="28.10" stroke="#f4f6f8" stroke-width="1"/><line x1="582.20" y1="27.60" x2="582.20" y2="41.00" stroke="#f4f6f8" stroke-width="1"/><line x1="581.70" y1="40.20" x2="700.00" y2="40.20" stroke="#3c3c3c" stroke-width="1.6"/><line x1="699.20" y1="27.60" x2="699.20" y2="41.00" stroke="#3c3c3c" stroke-width="1.6"/><text x="640.85" y="37.90" font-size="10" fill="#5e5e5e" font-family="Liberation Sans, Arial, sans-serif" text-anchor="middle" textLength="73.00" lengthAdjust="spacingAndGlyphs">Figura individual</text><rect x="581.70" y="42.80" width="118.30" height="13.40" fill="#d6dee4"/><line x1="581.70" y1="43.30" x2="700.00" y2="43.30" stroke="#f4f6f8" stroke-width="1"/><line x1="582.20" y1="42.80" x2="582.20" y2="56.20" stroke="#f4f6f8" stroke-width="1"/><line x1="581.70" y1="55.40" x2="700.00" y2="55.40" stroke="#3c3c3c" stroke-width="1.6"/><line x1="699.20" y1="42.80" x2="699.20" y2="56.20" stroke="#3c3c3c" stroke-width="1.6"/><text x="640.85" y="53.10" font-size="10" fill="#5e5e5e" font-family="Liberation Sans, Arial, sans-serif" text-anchor="middle" textLength="48.50" lengthAdjust="spacingAndGlyphs">Referência</text><text x="139.50" y="39.60" font-size="10" fill="#111" font-family="Liberation Sans, Arial, sans-serif" font-weight="bold" text-anchor="middle" textLength="31.00" lengthAdjust="spacingAndGlyphs">CA/CC</text><text x="257.40" y="36.50" font-size="7.7" fill="#111" font-family="DejaVu Sans, Verdana, sans-serif" font-weight="bold" text-anchor="middle" textLength="80.30" lengthAdjust="spacingAndGlyphs">Selecção cilindros</text><text x="387.10" y="36.50" font-size="7.7" fill="#111" font-family="DejaVu Sans, Verdana, sans-serif" font-weight="bold" text-anchor="middle" textLength="70.80" lengthAdjust="spacingAndGlyphs">Tipo de medição</text><text x="748.80" y="39.50" font-size="10" fill="#3c3c3c" font-family="Liberation Sans, Arial, sans-serif" font-weight="bold" text-anchor="middle" textLength="31.60" lengthAdjust="spacingAndGlyphs">CA/CC</text><rect x="16.70" y="33.10" width="59.10" height="21.60" fill="#d6dee4"/><rect x="17.45" y="33.85" width="57.60" height="20.10" fill="none" stroke="#8a949a" stroke-width="1.5"/><text x="46.25" y="47.30" font-size="9.5" fill="#505a62" font-family="Liberation Sans, Arial, sans-serif" font-weight="bold" text-anchor="middle" textLength="22.00" lengthAdjust="spacingAndGlyphs">CH 1</text><rect x="78.00" y="42.10" width="102.00" height="18.00" fill="#f0f0f0"/><rect x="78.50" y="42.60" width="101.00" height="17.00" fill="none" stroke="#7c7c7c" stroke-width="1"/><rect x="162.00" y="43.60" width="17.00" height="15.00" fill="#f6f6f6"/><line x1="162.00" y1="58.90" x2="179.00" y2="58.90" stroke="#6a6a6a" stroke-width="1.4"/><polygon points="166.50,49.10 174.50,49.10 170.50,53.30" fill="#8a8a8a"/><text x="81.20" y="52.60" font-size="9.6" fill="#b8b8b8" font-family="Liberation Sans, Arial, sans-serif">CC</text><rect x="192.60" y="41.00" width="127.40" height="18.00" fill="#f0f0f0"/><rect x="193.10" y="41.50" width="126.40" height="17.00" fill="none" stroke="#7c7c7c" stroke-width="1"/><rect x="302.00" y="42.50" width="17.00" height="15.00" fill="#f6f6f6"/><line x1="302.00" y1="57.80" x2="319.00" y2="57.80" stroke="#6a6a6a" stroke-width="1.4"/><polygon points="306.50,48.00 314.50,48.00 310.50,52.20" fill="#8a8a8a"/><text x="195.80" y="50.60" font-size="8.9" fill="#b8b8b8" font-family="Liberation Sans, Arial, sans-serif">Cilindro 1</text><rect x="322.00" y="41.00" width="127.00" height="18.00" fill="#f0f0f0"/><rect x="322.50" y="41.50" width="126.00" height="17.00" fill="none" stroke="#7c7c7c" stroke-width="1"/><rect x="431.00" y="42.50" width="17.00" height="15.00" fill="#f6f6f6"/><line x1="431.00" y1="57.80" x2="448.00" y2="57.80" stroke="#6a6a6a" stroke-width="1.4"/><polygon points="435.50,48.00 443.50,48.00 439.50,52.20" fill="#8a8a8a"/><text x="325.20" y="50.60" font-size="8.9" fill="#b8b8b8" font-family="Liberation Sans, Arial, sans-serif">Mín/Máx</text><rect x="708.60" y="42.00" width="95.90" height="18.00" fill="#f0f0f0"/><rect x="709.10" y="42.50" width="94.90" height="17.00" fill="none" stroke="#7c7c7c" stroke-width="1"/><rect x="786.50" y="43.50" width="17.00" height="15.00" fill="#f6f6f6"/><line x1="786.50" y1="58.80" x2="803.50" y2="58.80" stroke="#6a6a6a" stroke-width="1.4"/><polygon points="791.00,49.00 799.00,49.00 795.00,53.20" fill="#8a8a8a"/><text x="711.80" y="52.50" font-size="9.6" fill="#b8b8b8" font-family="Liberation Sans, Arial, sans-serif">CC</text><rect x="809.50" y="33.60" width="60.50" height="20.80" fill="#d6dee4"/><line x1="809.50" y1="34.10" x2="870.00" y2="34.10" stroke="#f4f6f8" stroke-width="1"/><line x1="810.00" y1="33.60" x2="810.00" y2="54.40" stroke="#f4f6f8" stroke-width="1"/><line x1="809.50" y1="53.60" x2="870.00" y2="53.60" stroke="#3c3c3c" stroke-width="1.6"/><line x1="869.20" y1="33.60" x2="869.20" y2="54.40" stroke="#3c3c3c" stroke-width="1.6"/><text x="839.75" y="47.60" font-size="9.5" fill="#3c3c3c" font-family="Liberation Sans, Arial, sans-serif" font-weight="bold" text-anchor="middle" textLength="22.00" lengthAdjust="spacingAndGlyphs">CH 2</text><rect x="13.00" y="57.20" width="860.00" height="2.60" fill="#eef1f3"/><rect x="13.00" y="59.80" width="860.00" height="1.20" fill="#6e6e6e"/><rect x="13.00" y="61.00" width="860.00" height="1.60" fill="#e6eaec"/><rect x="13.00" y="62.60" width="860.00" height="29.40" fill="#d6dee4"/><text x="15.90" y="70.90" font-size="9.6" fill="#111" font-family="Liberation Sans, Arial, sans-serif" font-weight="bold" textLength="23.40" lengthAdjust="spacingAndGlyphs">CH1:</text><text x="61.50" y="73.50" font-size="10" fill="#333" font-family="Liberation Sans, Arial, sans-serif" textLength="36.50" lengthAdjust="spacingAndGlyphs">Efectivo</text><text x="61.50" y="88.20" font-size="10" fill="#333" font-family="Liberation Sans, Arial, sans-serif" textLength="27.50" lengthAdjust="spacingAndGlyphs">Médio</text><rect x="152.50" y="63.00" width="54.50" height="13.00" fill="#ffffff"/><line x1="152.50" y1="63.50" x2="207.00" y2="63.50" stroke="#9a9a9a" stroke-width="1"/><line x1="153.00" y1="63.00" x2="153.00" y2="76.00" stroke="#9a9a9a" stroke-width="1"/><text x="205.00" y="73.40" font-size="10" fill="#333" font-family="Liberation Sans, Arial, sans-serif" text-anchor="end">3,70</text><text x="209.60" y="73.40" font-size="10" fill="#333" font-family="Liberation Sans, Arial, sans-serif">V</text><rect x="152.50" y="77.50" width="54.50" height="12.50" fill="#ffffff"/><line x1="152.50" y1="78.00" x2="207.00" y2="78.00" stroke="#9a9a9a" stroke-width="1"/><line x1="153.00" y1="77.50" x2="153.00" y2="90.00" stroke="#9a9a9a" stroke-width="1"/><text x="205.00" y="87.40" font-size="10" fill="#333" font-family="Liberation Sans, Arial, sans-serif" text-anchor="end">2,99</text><text x="209.60" y="87.40" font-size="10" fill="#333" font-family="Liberation Sans, Arial, sans-serif">V</text><text x="249.00" y="73.30" font-size="10" fill="#333" font-family="Liberation Sans, Arial, sans-serif">Mín</text><text x="249.00" y="87.80" font-size="10" fill="#333" font-family="Liberation Sans, Arial, sans-serif">Máx</text><rect x="305.60" y="63.00" width="56.40" height="13.00" fill="#ffffff"/><line x1="305.60" y1="63.50" x2="362.00" y2="63.50" stroke="#9a9a9a" stroke-width="1"/><line x1="306.10" y1="63.00" x2="306.10" y2="76.00" stroke="#9a9a9a" stroke-width="1"/><text x="360.00" y="73.40" font-size="10" fill="#333" font-family="Liberation Sans, Arial, sans-serif" text-anchor="end">0,40</text><text x="364.00" y="73.40" font-size="10" fill="#333" font-family="Liberation Sans, Arial, sans-serif">V</text><rect x="305.60" y="77.50" width="56.40" height="12.50" fill="#ffffff"/><line x1="305.60" y1="78.00" x2="362.00" y2="78.00" stroke="#9a9a9a" stroke-width="1"/><line x1="306.10" y1="77.50" x2="306.10" y2="90.00" stroke="#9a9a9a" stroke-width="1"/><text x="360.00" y="87.40" font-size="10" fill="#333" font-family="Liberation Sans, Arial, sans-serif" text-anchor="end">5,00</text><text x="364.00" y="87.40" font-size="10" fill="#333" font-family="Liberation Sans, Arial, sans-serif">V</text><text x="394.70" y="73.30" font-size="10" fill="#333" font-family="Liberation Sans, Arial, sans-serif">pico-pico</text><text x="394.70" y="87.80" font-size="10" fill="#333" font-family="Liberation Sans, Arial, sans-serif">Impulso</text><rect x="491.00" y="63.00" width="58.70" height="13.00" fill="#ffffff"/><line x1="491.00" y1="63.50" x2="549.70" y2="63.50" stroke="#9a9a9a" stroke-width="1"/><line x1="491.50" y1="63.00" x2="491.50" y2="76.00" stroke="#9a9a9a" stroke-width="1"/><text x="547.70" y="73.40" font-size="10" fill="#333" font-family="Liberation Sans, Arial, sans-serif" text-anchor="end">4,60</text><text x="551.00" y="73.40" font-size="10" fill="#333" font-family="Liberation Sans, Arial, sans-serif">V</text><rect x="491.00" y="77.50" width="58.70" height="12.50" fill="#ffffff"/><line x1="491.00" y1="78.00" x2="549.70" y2="78.00" stroke="#9a9a9a" stroke-width="1"/><line x1="491.50" y1="77.50" x2="491.50" y2="90.00" stroke="#9a9a9a" stroke-width="1"/><text x="547.70" y="87.40" font-size="10" fill="#333" font-family="Liberation Sans, Arial, sans-serif" text-anchor="end">769,9</text><text x="551.00" y="87.40" font-size="10" fill="#333" font-family="Liberation Sans, Arial, sans-serif">µs</text><text x="592.50" y="73.30" font-size="10" fill="#333" font-family="Liberation Sans, Arial, sans-serif">t/T</text><text x="592.50" y="87.80" font-size="10" fill="#333" font-family="Liberation Sans, Arial, sans-serif">Frequência</text><rect x="684.70" y="63.00" width="55.30" height="13.00" fill="#ffffff"/><line x1="684.70" y1="63.50" x2="740.00" y2="63.50" stroke="#9a9a9a" stroke-width="1"/><line x1="685.20" y1="63.00" x2="685.20" y2="76.00" stroke="#9a9a9a" stroke-width="1"/><text x="738.00" y="73.40" font-size="10" fill="#333" font-family="Liberation Sans, Arial, sans-serif" text-anchor="end">56,6</text><text x="741.50" y="73.40" font-size="10" fill="#333" font-family="Liberation Sans, Arial, sans-serif">%</text><rect x="684.70" y="77.50" width="55.30" height="12.50" fill="#ffffff"/><line x1="684.70" y1="78.00" x2="740.00" y2="78.00" stroke="#9a9a9a" stroke-width="1"/><line x1="685.20" y1="77.50" x2="685.20" y2="90.00" stroke="#9a9a9a" stroke-width="1"/><text x="738.00" y="87.40" font-size="10" fill="#333" font-family="Liberation Sans, Arial, sans-serif" text-anchor="end">735,3</text><text x="741.50" y="87.40" font-size="10" fill="#333" font-family="Liberation Sans, Arial, sans-serif">Hz</text><rect x="780.60" y="62.70" width="87.20" height="25.70" fill="#d6dee4"/><line x1="780.60" y1="63.20" x2="867.80" y2="63.20" stroke="#f4f6f8" stroke-width="1"/><line x1="781.10" y1="62.70" x2="781.10" y2="88.40" stroke="#f4f6f8" stroke-width="1"/><line x1="780.60" y1="87.60" x2="867.80" y2="87.60" stroke="#3c3c3c" stroke-width="1.6"/><line x1="867.00" y1="62.70" x2="867.00" y2="88.40" stroke="#3c3c3c" stroke-width="1.6"/><text x="824.20" y="79.15" font-size="10" fill="#222" font-family="Liberation Sans, Arial, sans-serif" text-anchor="middle" textLength="65.00" lengthAdjust="spacingAndGlyphs">Entre cursores</text><rect x="13.00" y="91.20" width="860.00" height="1.40" fill="#6e6e6e"/></g><rect x="12.00" y="709.40" width="864.00" height="234.80" fill="#f0f0f0"/><rect x="14.00" y="709.40" width="853.50" height="234.80" fill="#ffffff"/><rect x="12.60" y="709.40" width="1.40" height="234.80" fill="#a8b0b6"/><rect x="867.50" y="709.40" width="1.50" height="234.80" fill="#eef0f2"/><rect x="869.00" y="709.40" width="5.00" height="234.80" fill="#dce1e5"/><rect x="874.00" y="709.40" width="2.00" height="234.80" fill="#f0f0f0"/><line x1="69.40" y1="732.50" x2="814.60" y2="732.50" stroke="#cfcfcf" stroke-width="1" stroke-dasharray="1.5 1" stroke-opacity="0.75"/><line x1="69.40" y1="738.40" x2="814.60" y2="738.40" stroke="#cfcfcf" stroke-width="1" stroke-dasharray="1.5 1" stroke-opacity="0.75"/><line x1="69.40" y1="787.00" x2="814.60" y2="787.00" stroke="#cfcfcf" stroke-width="1" stroke-dasharray="1.5 1" stroke-opacity="0.75"/><line x1="69.40" y1="835.60" x2="814.60" y2="835.60" stroke="#cfcfcf" stroke-width="1" stroke-dasharray="1.5 1" stroke-opacity="0.75"/><line x1="69.40" y1="884.20" x2="814.60" y2="884.20" stroke="#cfcfcf" stroke-width="1" stroke-dasharray="1.5 1" stroke-opacity="0.75"/><line x1="103.10" y1="732.50" x2="103.10" y2="925.30" stroke="#d8d8d8" stroke-width="1.2" stroke-dasharray="1.5 1" stroke-opacity="0.75"/><line x1="240.50" y1="732.50" x2="240.50" y2="925.30" stroke="#d8d8d8" stroke-width="1.2" stroke-dasharray="1.5 1" stroke-opacity="0.75"/><line x1="377.90" y1="732.50" x2="377.90" y2="925.30" stroke="#d8d8d8" stroke-width="1.2" stroke-dasharray="1.5 1" stroke-opacity="0.75"/><line x1="515.30" y1="732.50" x2="515.30" y2="925.30" stroke="#d8d8d8" stroke-width="1.2" stroke-dasharray="1.5 1" stroke-opacity="0.75"/><line x1="652.70" y1="732.50" x2="652.70" y2="925.30" stroke="#d8d8d8" stroke-width="1.2" stroke-dasharray="1.5 1" stroke-opacity="0.75"/><line x1="790.10" y1="732.50" x2="790.10" y2="925.30" stroke="#d8d8d8" stroke-width="1.2" stroke-dasharray="1.5 1" stroke-opacity="0.75"/><line x1="814.60" y1="732.50" x2="814.60" y2="925.30" stroke="#d8d8d8" stroke-width="1.2" stroke-dasharray="1.5 1" stroke-opacity="0.75"/><line x1="69.40" y1="830.20" x2="814.60" y2="830.20" stroke="#b4b4b4" stroke-width="1"/><line x1="375.70" y1="732.50" x2="375.70" y2="930.30" stroke="#a0a0a0" stroke-width="1"/><line x1="543.60" y1="732.50" x2="543.60" y2="917.30" stroke="#b4b4b4" stroke-width="1"/><line x1="69.40" y1="732.50" x2="69.40" y2="925.30" stroke="#5a5a5a" stroke-width="1.1"/><line x1="69.40" y1="925.30" x2="814.60" y2="925.30" stroke="#5a5a5a" stroke-width="1.1"/><text x="18.80" y="723.20" font-size="12.6" fill="#2c2cff" font-family="Liberation Sans, Arial, sans-serif" textLength="60.00" lengthAdjust="spacingAndGlyphs" stroke="#2c2cff" stroke-width="0.4">U-CH1</text><rect x="417.60" y="711.00" width="83.40" height="12.60" fill="#cbcbcb"/><text x="418.90" y="720.30" font-size="10" fill="#2a2a2a" font-family="Liberation Sans, Arial, sans-serif" textLength="79.70" lengthAdjust="spacingAndGlyphs">&lt; 0,24ms &gt;</text><text x="17.40" y="742.80" font-size="9.7" fill="#2c2cff" font-family="Liberation Sans, Arial, sans-serif" textLength="9.50" lengthAdjust="spacingAndGlyphs">V</text><polyline points="30.5,759 16.8,773.9 30.5,788.7" fill="none" stroke="#151515" stroke-width="1.5"/><text x="65.60" y="743.10" font-size="10" fill="#2c2cff" font-family="Liberation Sans, Arial, sans-serif" text-anchor="end" textLength="20.20" lengthAdjust="spacingAndGlyphs">7,5</text><text x="65.60" y="791.20" font-size="10" fill="#2c2cff" font-family="Liberation Sans, Arial, sans-serif" text-anchor="end" textLength="20.20" lengthAdjust="spacingAndGlyphs">5,0</text><text x="65.60" y="839.40" font-size="10" fill="#2c2cff" font-family="Liberation Sans, Arial, sans-serif" text-anchor="end" textLength="20.20" lengthAdjust="spacingAndGlyphs">2,5</text><text x="65.60" y="888.10" font-size="10" fill="#2c2cff" font-family="Liberation Sans, Arial, sans-serif" text-anchor="end" textLength="20.20" lengthAdjust="spacingAndGlyphs">0,0</text><text x="103.10" y="935.80" font-size="10.2" fill="#a9a9a9" font-family="Liberation Sans, Arial, sans-serif" text-anchor="middle" textLength="20.00" lengthAdjust="spacingAndGlyphs">0,0</text><text x="240.50" y="935.80" font-size="10.2" fill="#a9a9a9" font-family="Liberation Sans, Arial, sans-serif" text-anchor="middle" textLength="20.00" lengthAdjust="spacingAndGlyphs">0,2</text><text x="377.90" y="935.80" font-size="10.2" fill="#a9a9a9" font-family="Liberation Sans, Arial, sans-serif" text-anchor="middle" textLength="20.00" lengthAdjust="spacingAndGlyphs">0,4</text><text x="515.30" y="935.80" font-size="10.2" fill="#a9a9a9" font-family="Liberation Sans, Arial, sans-serif" text-anchor="middle" textLength="20.00" lengthAdjust="spacingAndGlyphs">0,6</text><text x="652.70" y="935.80" font-size="10.2" fill="#a9a9a9" font-family="Liberation Sans, Arial, sans-serif" text-anchor="middle" textLength="20.00" lengthAdjust="spacingAndGlyphs">0,8</text><text x="790.10" y="935.80" font-size="10.2" fill="#a9a9a9" font-family="Liberation Sans, Arial, sans-serif" text-anchor="middle" textLength="20.00" lengthAdjust="spacingAndGlyphs">1,0</text><text x="794.10" y="942.80" font-size="10.2" fill="#a9a9a9" font-family="Liberation Sans, Arial, sans-serif" text-anchor="middle" textLength="14.00" lengthAdjust="spacingAndGlyphs">ms</text><polyline points="69.4,874.0 69.9,874.0 70.4,874.0 70.9,874.0 71.4,874.0 71.9,874.0 72.4,874.0 72.9,874.0 73.4,874.0 73.9,874.0 74.4,874.0 74.9,874.0 75.4,874.0 75.9,874.0 76.4,874.0 76.9,874.0 77.4,874.0 77.9,874.0 78.4,874.0 78.9,874.0 79.4,874.0 79.9,874.0 80.4,874.0 80.9,874.0 81.4,874.0 81.9,874.0 82.4,874.0 82.9,874.0 83.4,874.0 83.9,874.0 84.4,874.0 84.9,874.0 85.4,874.0 85.9,874.0 86.4,874.0 86.9,874.0 87.4,874.0 87.9,874.0 88.4,874.0 88.9,874.0 89.4,874.0 89.9,874.0 90.4,874.0 90.9,874.0 91.4,874.0 91.9,874.0 92.4,874.0 92.9,874.0 93.4,874.0 93.9,874.0 94.4,873.9 94.9,871.8 95.4,867.8 95.9,864.1 96.4,860.6 96.9,857.3 97.4,854.1 97.9,851.0 98.4,848.1 98.9,845.4 99.4,842.7 99.9,840.2 100.4,837.8 100.9,835.5 101.4,833.3 101.9,831.2 102.4,829.2 102.9,827.2 103.4,825.4 103.9,823.7 104.4,822.0 104.9,820.4 105.4,818.9 105.9,817.4 106.4,816.0 106.9,814.7 107.4,813.5 107.9,812.3 108.4,811.1 108.9,810.0 109.4,808.9 109.9,807.9 110.4,807.0 110.9,806.1 111.4,805.2 111.9,804.4 112.4,803.6 112.9,802.8 113.4,802.1 113.9,801.4 114.4,800.7 114.9,800.1 115.4,799.5 115.9,798.9 116.4,798.4 116.9,797.9 117.4,797.4 117.9,796.9 118.4,796.4 118.9,796.0 119.4,795.6 119.9,795.2 120.4,794.8 120.9,794.4 121.4,794.1 121.9,793.8 122.4,793.4 122.9,793.1 123.4,792.9 123.9,792.6 124.4,792.3 124.9,792.1 125.4,791.8 125.9,791.6 126.4,791.4 126.9,791.2 127.4,791.1 127.9,791.0 128.4,790.9 128.9,790.9 129.4,790.6 129.9,790.3 130.4,789.8 130.9,789.5 131.4,789.3 131.9,789.3 132.4,789.3 132.9,789.1 133.4,788.9 133.9,788.8 134.4,788.7 134.9,788.9 135.4,789.1 135.9,789.2 136.4,789.1 136.9,788.8 137.4,788.6 137.9,788.5 138.4,788.5 138.9,788.5 139.4,788.3 139.9,788.0 140.4,787.7 140.9,787.5 141.4,787.5 141.9,787.7 142.4,787.8 142.9,787.8 143.4,787.7 143.9,787.6 144.4,787.7 144.9,787.9 145.4,788.1 145.9,788.1 146.4,787.9 146.9,787.7 147.4,787.4 147.9,787.3 148.4,787.4 148.9,787.4 149.4,787.2 149.9,787.0 150.4,786.8 150.9,786.8 151.4,786.9 151.9,787.2 152.4,787.4 152.9,787.4 153.4,787.3 153.9,787.2 154.4,787.3 154.9,787.5 155.4,787.6 155.9,787.5 156.4,787.3 156.9,787.0 157.4,786.8 157.9,786.7 158.4,786.8 158.9,786.9 159.4,786.8 159.9,786.7 160.4,786.6 160.9,786.6 161.4,786.9 161.9,787.2 162.4,787.4 162.9,787.3 163.4,787.2 163.9,787.1 164.4,787.1 164.9,787.2 165.4,787.2 165.9,787.1 166.4,786.8 166.9,786.5 167.4,786.4 167.9,786.4 168.4,786.6 168.9,786.7 169.4,786.7 169.9,786.6 170.4,786.6 170.9,786.7 171.4,787.0 171.9,787.2 172.4,787.3 172.9,787.2 173.4,787.0 173.9,786.8 174.4,786.8 174.9,786.9 175.4,786.9 175.9,786.8 176.4,786.5 176.9,786.3 177.4,786.3 177.9,786.4 178.4,786.7 178.9,786.9 179.4,786.9 179.9,786.8 180.4,786.8 180.9,786.9 181.4,787.2 181.9,787.3 182.4,787.3 182.9,787.1 183.4,786.8 183.9,786.6 184.4,786.6 184.9,786.7 185.4,786.7 185.9,786.6 186.4,786.4 186.9,786.3 187.4,786.4 187.9,786.6 188.4,787.0 188.9,787.3 189.4,787.5 189.9,787.5 190.4,787.7 190.9,788.0 191.4,788.5 191.9,789.0 192.4,789.6 192.9,790.1 193.4,791.9 193.9,795.6 194.4,799.9 194.9,804.2 195.4,809.3 195.9,815.8 196.4,824.7 196.9,835.1 197.4,845.5 197.9,855.4 198.4,866.7 198.9,873.7 199.4,874.0 199.9,874.0 200.4,874.0 200.9,874.0 201.4,874.0 201.9,874.0 202.4,874.0 202.9,874.0 203.4,874.0 203.9,874.0 204.4,874.0 204.9,874.0 205.4,874.0 205.9,874.0 206.4,874.0 206.9,874.0 207.4,874.0 207.9,874.0 208.4,874.0 208.9,874.0 209.4,874.0 209.9,874.0 210.4,874.0 210.9,874.0 211.4,874.0 211.9,874.0 212.4,874.0 212.9,874.0 213.4,874.0 213.9,874.0 214.4,874.0 214.9,874.0 215.4,874.0 215.9,874.0 216.4,874.0 216.9,874.0 217.4,874.0 217.9,874.0 218.4,874.0 218.9,874.0 219.4,874.0 219.9,874.0 220.4,874.0 220.9,874.0 221.4,874.0 221.9,874.0 222.4,874.0 222.9,874.0 223.4,874.0 223.9,874.0 224.4,874.0 224.9,874.0 225.4,874.0 225.9,874.0 226.4,874.0 226.9,874.0 227.4,874.0 227.9,874.0 228.4,874.0 228.9,874.0 229.4,874.0 229.9,874.0 230.4,874.0 230.9,874.0 231.4,874.0 231.9,874.0 232.4,874.0 232.9,874.0 233.4,874.0 233.9,874.0 234.4,874.0 234.9,874.0 235.4,874.0 235.9,874.0 236.4,874.0 236.9,874.0 237.4,874.0 237.9,874.0 238.4,874.0 238.9,874.0 239.4,874.0 239.9,874.0 240.4,874.0 240.9,874.0 241.4,874.0 241.9,874.0 242.4,874.0 242.9,874.0 243.4,874.0 243.9,874.0 244.4,874.0 244.9,874.0 245.4,874.0 245.9,874.0 246.4,874.0 246.9,874.0 247.4,874.0 247.9,874.0 248.4,874.0 248.9,874.0 249.4,874.0 249.9,874.0 250.4,874.0 250.9,874.0 251.4,874.0 251.9,874.0 252.4,874.0 252.9,874.0 253.4,874.0 253.9,874.0 254.4,874.0 254.9,874.0 255.4,874.0 255.9,874.0 256.4,874.0 256.9,874.0 257.4,874.0 257.9,874.0 258.4,874.0 258.9,874.0 259.4,874.0 259.9,874.0 260.4,874.0 260.9,874.0 261.4,874.0 261.9,874.0 262.4,874.0 262.9,874.0 263.4,874.0 263.9,874.0 264.4,874.0 264.9,874.0 265.4,874.0 265.9,874.0 266.4,874.0 266.9,874.0 267.4,874.0 267.9,874.0 268.4,874.0 268.9,874.0 269.4,874.0 269.9,874.0 270.4,873.7 270.9,871.1 271.4,867.0 271.9,863.4 272.4,859.9 272.9,856.6 273.4,853.5 273.9,850.4 274.4,847.6 274.9,844.8 275.4,842.2 275.9,839.7 276.4,837.3 276.9,835.0 277.4,832.8 277.9,830.7 278.4,828.8 278.9,826.9 279.4,825.0 279.9,823.3 280.4,821.7 280.9,820.1 281.4,818.6 281.9,817.1 282.4,815.8 282.9,814.5 283.4,813.2 283.9,812.0 284.4,810.9 284.9,809.8 285.4,808.7 285.9,807.8 286.4,806.8 286.9,805.9 287.4,805.0 287.9,804.2 288.4,803.4 288.9,802.7 289.4,802.0 289.9,801.3 290.4,800.6 290.9,800.0 291.4,799.4 291.9,798.8 292.4,798.3 292.9,797.8 293.4,797.3 293.9,796.8 294.4,796.3 294.9,795.9 295.4,795.5 295.9,795.1 296.4,794.7 296.9,794.4 297.4,794.0 297.9,793.7 298.4,793.4 298.9,793.1 299.4,792.8 299.9,792.5 300.4,792.3 300.9,792.0 301.4,791.8 301.9,791.6 302.4,791.3 302.9,790.6 303.4,790.5 303.9,790.6 304.4,790.6 304.9,790.5 305.4,790.3 305.9,790.1 306.4,790.0 306.9,790.1 307.4,790.1 307.9,790.1 308.4,789.8 308.9,789.4 309.4,789.0 309.9,788.9 310.4,788.8 310.9,788.8 311.4,788.6 311.9,788.4 312.4,788.1 312.9,788.1 313.4,788.2 313.9,788.4 314.4,788.6 314.9,788.5 315.4,788.4 315.9,788.2 316.4,788.2 316.9,788.3 317.4,788.4 317.9,788.3 318.4,788.0 318.9,787.6 319.4,787.4 319.9,787.3 320.4,787.4 320.9,787.5 321.4,787.4 321.9,787.3 322.4,787.2 322.9,787.2 323.4,787.5 323.9,787.7 324.4,787.9 324.9,787.8 325.4,787.6 325.9,787.4 326.4,787.4 326.9,787.5 327.4,787.5 327.9,787.3 328.4,787.1 328.9,786.8 329.4,786.6 329.9,786.7 330.4,786.9 330.9,787.1 331.4,787.1 331.9,787.0 332.4,787.0 332.9,787.1 333.4,787.3 333.9,787.5 334.4,787.6 334.9,787.4 335.4,787.2 335.9,787.0 336.4,786.9 336.9,787.0 337.4,787.0 337.9,786.9 338.4,786.6 338.9,786.5 339.4,786.4 339.9,786.6 340.4,786.9 340.9,787.1 341.4,787.1 341.9,787.0 342.4,787.0 342.9,787.0 343.4,787.2 343.9,787.3 344.4,787.3 344.9,787.0 345.4,786.7 345.9,786.5 346.4,786.5 346.9,786.6 347.4,786.7 347.9,786.6 348.4,786.5 348.9,786.4 349.4,786.5 349.9,786.7 350.4,787.0 350.9,787.2 351.4,787.2 351.9,787.0 352.4,787.0 352.9,787.0 353.4,787.1 353.9,787.1 354.4,787.0 354.9,786.7 355.4,786.5 355.9,786.3 356.4,786.4 356.9,786.6 357.4,786.7 357.9,786.7 358.4,786.6 358.9,786.6 359.4,786.7 359.9,787.0 360.4,787.2 360.9,787.3 361.4,787.2 361.9,787.0 362.4,786.8 362.9,786.8 363.4,786.9 363.9,786.9 364.4,786.9 364.9,786.7 365.4,786.7 365.9,786.9 366.4,787.3 366.9,787.8 367.4,788.3 367.9,788.8 368.4,789.4 368.9,790.3 369.4,792.6 369.9,796.5 370.4,800.7 370.9,805.2 371.4,810.5 371.9,817.4 372.4,826.7 372.9,837.2 373.4,847.5 373.9,857.6 374.4,868.7 374.9,874.0 375.4,874.0 375.9,874.0 376.4,874.0 376.9,874.0 377.4,874.0 377.9,874.0 378.4,874.0 378.9,874.0 379.4,874.0 379.9,874.0 380.4,874.0 380.9,874.0 381.4,874.0 381.9,874.0 382.4,874.0 382.9,874.0 383.4,874.0 383.9,874.0 384.4,874.0 384.9,874.0 385.4,874.0 385.9,874.0 386.4,874.0 386.9,874.0 387.4,874.0 387.9,874.0 388.4,874.0 388.9,874.0 389.4,874.0 389.9,874.0 390.4,874.0 390.9,874.0 391.4,874.0 391.9,874.0 392.4,874.0 392.9,874.0 393.4,874.0 393.9,874.0 394.4,874.0 394.9,874.0 395.4,874.0 395.9,874.0 396.4,874.0 396.9,874.0 397.4,874.0 397.9,874.0 398.4,874.0 398.9,874.0 399.4,874.0 399.9,874.0 400.4,874.0 400.9,874.0 401.4,874.0 401.9,874.0 402.4,874.0 402.9,874.0 403.4,874.0 403.9,874.0 404.4,874.0 404.9,874.0 405.4,874.0 405.9,874.0 406.4,874.0 406.9,874.0 407.4,874.0 407.9,874.0 408.4,874.0 408.9,874.0 409.4,874.0 409.9,874.0 410.4,874.0 410.9,874.0 411.4,874.0 411.9,874.0 412.4,874.0 412.9,874.0 413.4,874.0 413.9,874.0 414.4,874.0 414.9,874.0 415.4,874.0 415.9,874.0 416.4,874.0 416.9,874.0 417.4,874.0 417.9,874.0 418.4,874.0 418.9,874.0 419.4,874.0 419.9,874.0 420.4,874.0 420.9,874.0 421.4,874.0 421.9,874.0 422.4,874.0 422.9,874.0 423.4,874.0 423.9,874.0 424.4,874.0 424.9,874.0 425.4,874.0 425.9,874.0 426.4,874.0 426.9,874.0 427.4,874.0 427.9,874.0 428.4,874.0 428.9,874.0 429.4,874.0 429.9,874.0 430.4,874.0 430.9,874.0 431.4,874.0 431.9,874.0 432.4,874.0 432.9,874.0 433.4,874.0 433.9,874.0 434.4,874.0 434.9,874.0 435.4,874.0 435.9,874.0 436.4,874.0 436.9,874.0 437.4,874.0 437.9,874.0 438.4,874.0 438.9,874.0 439.4,874.0 439.9,874.0 440.4,874.0 440.9,874.0 441.4,874.0 441.9,874.0 442.4,874.0 442.9,874.0 443.4,874.0 443.9,874.0 444.4,874.0 444.9,874.0 445.4,874.0 445.9,874.0 446.4,873.3 446.9,870.2 447.4,866.3 447.9,862.7 448.4,859.3 448.9,856.0 449.4,852.9 449.9,849.9 450.4,847.0 450.9,844.3 451.4,841.7 451.9,839.2 452.4,836.8 452.9,834.6 453.4,832.4 453.9,830.3 454.4,828.4 454.9,826.5 455.4,824.7 455.9,823.0 456.4,821.3 456.9,819.8 457.4,818.3 457.9,816.9 458.4,815.5 458.9,814.2 459.4,813.0 459.9,811.8 460.4,810.7 460.9,809.6 461.4,808.5 461.9,807.6 462.4,806.6 462.9,805.7 463.4,804.9 463.9,804.1 464.4,803.3 464.9,802.5 465.4,801.8 465.9,801.1 466.4,800.5 466.9,799.9 467.4,799.3 467.9,798.7 468.4,798.2 468.9,797.7 469.4,797.2 469.9,796.7 470.4,796.2 470.9,795.8 471.4,795.4 471.9,795.0 472.4,794.7 472.9,794.3 473.4,794.0 473.9,793.6 474.4,793.3 474.9,793.0 475.4,792.7 475.9,792.5 476.4,792.2 476.9,792.0 477.4,791.7 477.9,791.5 478.4,791.3 478.9,791.3 479.4,791.2 479.9,791.0 480.4,790.6 480.9,790.1 481.4,789.8 481.9,789.6 482.4,789.6 482.9,789.6 483.4,789.5 483.9,789.3 484.4,789.2 484.9,789.1 485.4,789.2 485.9,789.4 486.4,789.5 486.9,789.3 487.4,789.0 487.9,788.8 488.4,788.6 488.9,788.6 489.4,788.5 489.9,788.4 490.4,788.1 490.9,787.8 491.4,787.6 491.9,787.6 492.4,787.8 492.9,788.0 493.4,788.0 493.9,787.9 494.4,787.8 494.9,787.9 495.4,788.0 495.9,788.2 496.4,788.2 496.9,788.0 497.4,787.7 497.9,787.4 498.4,787.3 498.9,787.3 499.4,787.4 499.9,787.3 500.4,787.1 500.9,786.9 501.4,786.9 501.9,787.1 502.4,787.3 502.9,787.5 503.4,787.6 503.9,787.4 504.4,787.4 504.9,787.4 505.4,787.5 505.9,787.6 506.4,787.5 506.9,787.3 507.4,786.9 507.9,786.7 508.4,786.7 508.9,786.8 509.4,786.9 509.9,786.9 510.4,786.8 510.9,786.7 511.4,786.8 511.9,787.0 512.4,787.3 512.9,787.5 513.4,787.4 513.9,787.2 514.4,787.1 514.9,787.1 515.4,787.1 515.9,787.2 516.4,787.0 516.9,786.8 517.4,786.5 517.9,786.4 518.4,786.4 518.9,786.6 519.4,786.8 519.9,786.8 520.4,786.7 520.9,786.7 521.4,786.8 521.9,787.0 522.4,787.3 522.9,787.3 523.4,787.2 523.9,787.0 524.4,786.8 524.9,786.7 525.4,786.8 525.9,786.8 526.4,786.7 526.9,786.5 527.4,786.3 527.9,786.3 528.4,786.5 528.9,786.8 529.4,787.0 529.9,787.0 530.4,786.9 530.9,786.9 531.4,787.0 531.9,787.2 532.4,787.3 532.9,787.2 533.4,787.0 533.9,786.7 534.4,786.5 534.9,786.5 535.4,786.6 535.9,786.7 536.4,786.6 536.9,786.5 537.4,786.4 537.9,786.5 538.4,786.7 538.9,787.0 539.4,787.2 539.9,787.2 540.4,787.2 540.9,787.2 541.4,787.4 541.9,787.7 542.4,788.0 542.9,788.2 543.4,788.3 543.9,788.5 544.4,789.1 544.9,790.1 545.4,793.3 545.9,797.3 546.4,801.5 546.9,806.1 547.4,811.7 547.9,819.1 548.4,828.7 548.9,839.3 549.4,849.5 549.9,859.9 550.4,870.4 550.9,874.0 551.4,874.0 551.9,874.0 552.4,874.0 552.9,874.0 553.4,874.0 553.9,874.0 554.4,874.0 554.9,874.0 555.4,874.0 555.9,874.0 556.4,874.0 556.9,874.0 557.4,874.0 557.9,874.0 558.4,874.0 558.9,874.0 559.4,874.0 559.9,874.0 560.4,874.0 560.9,874.0 561.4,874.0 561.9,874.0 562.4,874.0 562.9,874.0 563.4,874.0 563.9,874.0 564.4,874.0 564.9,874.0 565.4,874.0 565.9,874.0 566.4,874.0 566.9,874.0 567.4,874.0 567.9,874.0 568.4,874.0 568.9,874.0 569.4,874.0 569.9,874.0 570.4,874.0 570.9,874.0 571.4,874.0 571.9,874.0 572.4,874.0 572.9,874.0 573.4,874.0 573.9,874.0 574.4,874.0 574.9,874.0 575.4,874.0 575.9,874.0 576.4,874.0 576.9,874.0 577.4,874.0 577.9,874.0 578.4,874.0 578.9,874.0 579.4,874.0 579.9,874.0 580.4,874.0 580.9,874.0 581.4,874.0 581.9,874.0 582.4,874.0 582.9,874.0 583.4,874.0 583.9,874.0 584.4,874.0 584.9,874.0 585.4,874.0 585.9,874.0 586.4,874.0 586.9,874.0 587.4,874.0 587.9,874.0 588.4,874.0 588.9,874.0 589.4,874.0 589.9,874.0 590.4,874.0 590.9,874.0 591.4,874.0 591.9,874.0 592.4,874.0 592.9,874.0 593.4,874.0 593.9,874.0 594.4,874.0 594.9,874.0 595.4,874.0 595.9,874.0 596.4,874.0 596.9,874.0 597.4,874.0 597.9,874.0 598.4,874.0 598.9,874.0 599.4,874.0 599.9,874.0 600.4,874.0 600.9,874.0 601.4,874.0 601.9,874.0 602.4,874.0 602.9,874.0 603.4,874.0 603.9,874.0 604.4,874.0 604.9,874.0 605.4,874.0 605.9,874.0 606.4,874.0 606.9,874.0 607.4,874.0 607.9,874.0 608.4,874.0 608.9,874.0 609.4,874.0 609.9,874.0 610.4,874.0 610.9,874.0 611.4,874.0 611.9,874.0 612.4,874.0 612.9,874.0 613.4,874.0 613.9,874.0 614.4,874.0 614.9,874.0 615.4,874.0 615.9,874.0 616.4,874.0 616.9,874.0 617.4,874.0 617.9,874.0 618.4,874.0 618.9,874.0 619.4,874.0 619.9,874.0 620.4,874.0 620.9,874.0 621.4,874.0 621.9,874.0 622.4,872.9 622.9,869.3 623.4,865.6 623.9,862.0 624.4,858.6 624.9,855.3 625.4,852.2 625.9,849.3 626.4,846.5 626.9,843.8 627.4,841.2 627.9,838.7 628.4,836.4 628.9,834.1 629.4,832.0 629.9,829.9 630.4,828.0 630.9,826.1 631.4,824.3 631.9,822.6 632.4,821.0 632.9,819.5 633.4,818.0 633.9,816.6 634.4,815.2 634.9,814.0 635.4,812.7 635.9,811.6 636.4,810.4 636.9,809.4 637.4,808.3 637.9,807.4 638.4,806.4 638.9,805.5 639.4,804.7 639.9,803.9 640.4,803.1 640.9,802.4 641.4,801.7 641.9,801.0 642.4,800.4 642.9,799.7 643.4,799.2 643.9,798.6 644.4,798.1 644.9,797.6 645.4,797.1 645.9,796.6 646.4,796.2 646.9,795.7 647.4,795.3 647.9,794.9 648.4,794.6 648.9,794.2 649.4,793.9 649.9,793.6 650.4,793.3 650.9,793.0 651.4,792.7 651.9,792.4 652.4,792.2 652.9,791.9 653.4,791.7 653.9,791.5 654.4,791.3 654.9,791.2 655.4,791.1 655.9,790.8 656.4,790.6 656.9,790.5 657.4,790.5 657.9,790.5 658.4,790.4 658.9,790.0 659.4,789.6 659.9,789.2 660.4,789.1 660.9,789.0 661.4,789.0 661.9,788.9 662.4,788.6 662.9,788.4 663.4,788.4 663.9,788.5 664.4,788.7 664.9,788.8 665.4,788.8 665.9,788.6 666.4,788.4 666.9,788.4 667.4,788.4 667.9,788.4 668.4,788.3 668.9,788.0 669.4,787.7 669.9,787.4 670.4,787.4 670.9,787.5 671.4,787.6 671.9,787.6 672.4,787.5 672.9,787.4 673.4,787.4 673.9,787.6 674.4,787.9 674.9,788.0 675.4,787.9 675.9,787.7 676.4,787.5 676.9,787.4 677.4,787.4 677.9,787.4 678.4,787.3 678.9,787.1 679.4,786.8 679.9,786.7 680.4,786.8 680.9,787.0 681.4,787.2 681.9,787.2 682.4,787.2 682.9,787.1 683.4,787.2 683.9,787.4 684.4,787.6 684.9,787.6 685.4,787.4 685.9,787.1 686.4,786.9 686.9,786.8 687.4,786.9 687.9,786.9 688.4,786.8 688.9,786.7 689.4,786.5 689.9,786.5 690.4,786.7 690.9,787.0 691.4,787.2 691.9,787.2 692.4,787.1 692.9,787.1 693.4,787.1 693.9,787.2 694.4,787.3 694.9,787.2 695.4,787.0 695.9,786.6 696.4,786.4 696.9,786.4 697.4,786.5 697.9,786.6 698.4,786.6 698.9,786.5 699.4,786.5 699.9,786.6 700.4,786.8 700.9,787.1 701.4,787.3 701.9,787.2 702.4,787.1 702.9,786.9 703.4,786.9 703.9,787.0 704.4,787.0 704.9,786.9 705.4,786.7 705.9,786.4 706.4,786.3 706.9,786.4 707.4,786.6 707.9,786.7 708.4,786.8 708.9,786.7 709.4,786.7 709.9,786.8 710.4,787.1 710.9,787.3 711.4,787.3 711.9,787.2 712.4,787.0 712.9,786.8 713.4,786.7 713.9,786.8 714.4,786.8 714.9,786.7 715.4,786.5 715.9,786.3 716.4,786.4 716.9,786.8 717.4,787.2 717.9,787.6 718.4,787.9 718.9,788.1 719.4,788.5 719.9,789.2 720.4,790.1 720.9,791.4 721.4,794.0 721.9,798.2 722.4,802.4 722.9,807.2 723.4,813.0 723.9,820.9 724.4,830.8 724.9,841.4 725.4,851.3 725.9,862.3 726.4,871.9 726.9,874.0 727.4,874.0 727.9,874.0 728.4,874.0 728.9,874.0 729.4,874.0 729.9,874.0 730.4,874.0 730.9,874.0 731.4,874.0 731.9,874.0 732.4,874.0 732.9,874.0 733.4,874.0 733.9,874.0 734.4,874.0 734.9,874.0 735.4,874.0 735.9,874.0 736.4,874.0 736.9,874.0 737.4,874.0 737.9,874.0 738.4,874.0 738.9,874.0 739.4,874.0 739.9,874.0 740.4,874.0 740.9,874.0 741.4,874.0 741.9,874.0 742.4,874.0 742.9,874.0 743.4,874.0 743.9,874.0 744.4,874.0 744.9,874.0 745.4,874.0 745.9,874.0 746.4,874.0 746.9,874.0 747.4,874.0 747.9,874.0 748.4,874.0 748.9,874.0 749.4,874.0 749.9,874.0 750.4,874.0 750.9,874.0 751.4,874.0 751.9,874.0 752.4,874.0 752.9,874.0 753.4,874.0 753.9,874.0 754.4,874.0 754.9,874.0 755.4,874.0 755.9,874.0 756.4,874.0 756.9,874.0 757.4,874.0 757.9,874.0 758.4,874.0 758.9,874.0 759.4,874.0 759.9,874.0 760.4,874.0 760.9,874.0 761.4,874.0 761.9,874.0 762.4,874.0 762.9,874.0 763.4,874.0 763.9,874.0 764.4,874.0 764.9,874.0 765.4,874.0 765.9,874.0 766.4,874.0 766.9,874.0 767.4,874.0 767.9,874.0 768.4,874.0 768.9,874.0 769.4,874.0 769.9,874.0 770.4,874.0 770.9,874.0 771.4,874.0 771.9,874.0 772.4,874.0 772.9,874.0 773.4,874.0 773.9,874.0 774.4,874.0 774.9,874.0 775.4,874.0 775.9,874.0 776.4,874.0 776.9,874.0 777.4,874.0 777.9,874.0 778.4,874.0 778.9,874.0 779.4,874.0 779.9,874.0 780.4,874.0 780.9,874.0 781.4,874.0 781.9,874.0 782.4,874.0 782.9,874.0 783.4,874.0 783.9,874.0 784.4,874.0 784.9,874.0 785.4,874.0 785.9,874.0 786.4,874.0 786.9,874.0 787.4,874.0 787.9,874.0 788.4,874.0 788.9,874.0 789.4,874.0 789.9,874.0 790.4,874.0 790.9,874.0 791.4,874.0 791.9,874.0 792.4,874.0 792.9,874.0 793.4,874.0 793.9,874.0 794.4,874.0 794.9,874.0 795.4,874.0 795.9,874.0 796.4,874.0 796.9,874.0 797.4,874.0 797.9,874.0 798.4,872.4 798.9,868.5 799.4,864.8 799.9,861.3 800.4,857.9 800.9,854.7 801.4,851.6 801.9,848.7 802.4,845.9 802.9,843.2 803.4,840.7 803.9,838.2 804.4,835.9 804.9,833.7 805.4,831.6 805.9,829.5 806.4,827.6 806.9,825.8 807.4,824.0 807.9,822.3 808.4,820.7 808.9,819.2 809.4,817.7 809.9,816.3 810.4,815.0 810.9,813.7 811.4,812.5 811.9,811.3 812.4,810.2 812.9,809.2 813.4,808.1 813.9,807.2 814.4,806.3" fill="none" stroke="#0c0cf0" stroke-width="1.85" stroke-linejoin="round"/><polygon points="69.40,884.50 75.40,880.20 81.40,880.20 81.40,888.80 75.40,888.80" fill="#6c6c6c"/><polygon points="97.60,917.80 108.60,917.80 103.10,925.30" fill="#5c5c5c"/><rect x="69.40" y="733.30" width="53.60" height="17.60" fill="#b4b4f4"/><rect x="70.00" y="733.90" width="52.40" height="16.40" fill="none" stroke="#1c1c24" stroke-width="1.3"/><rect x="93.93" y="733.30" width="2.60" height="17.60" fill="#1c1c24"/><line x1="72.70" y1="739.81" x2="92.73" y2="739.81" stroke="#22222e" stroke-width="1.7"/><line x1="72.70" y1="744.39" x2="92.73" y2="744.39" stroke="#22222e" stroke-width="1.7"/><line x1="100.53" y1="739.81" x2="119.80" y2="739.81" stroke="#1a1a2a" stroke-width="1.7"/><line x1="100.53" y1="744.39" x2="119.80" y2="744.39" stroke="#1a1a2a" stroke-width="1.7"/><polygon points="98.53,739.81 102.53,737.81 102.53,741.81" fill="#1a1a2a"/><polygon points="98.53,744.39 102.53,742.39 102.53,746.39" fill="#1a1a2a"/><rect x="415.00" y="733.00" width="53.70" height="18.00" fill="#c4c4c4"/><rect x="415.75" y="733.75" width="52.20" height="16.50" fill="none" stroke="#151515" stroke-width="1.5"/><rect x="440.17" y="733.00" width="2.60" height="18.00" fill="#151515"/><polyline points="420.10,748.48 427.67,748.48 427.67,735.16 434.76,735.16" fill="none" stroke="#151515" stroke-width="1.5"/><polyline points="422.95,743.80 427.67,741.10 432.08,743.80" fill="none" stroke="#151515" stroke-width="1.5"/><text x="455.01" y="746.68" font-size="12.959999999999999" fill="#111" font-family="Liberation Sans, Arial, sans-serif" text-anchor="middle" stroke="#111" stroke-width="0.5">1</text><rect x="14.70" y="813.80" width="19.90" height="36.30" fill="#b4b4f4"/><rect x="15.20" y="814.30" width="18.90" height="35.30" fill="none" stroke="#7070d0" stroke-width="1"/><text x="0" y="0" font-size="10.5" fill="#222" stroke="#222" stroke-width="0.3" font-family="Liberation Sans, Arial, sans-serif" text-anchor="middle" transform="translate(28.45 831.95) rotate(-90)" textLength="31.30" lengthAdjust="spacingAndGlyphs">&lt; 4,4 &gt;</text><rect x="34.60" y="824.20" width="34.80" height="12.40" fill="#cacaca"/><rect x="35.20" y="824.80" width="33.60" height="11.20" fill="none" stroke="#3a3a3a" stroke-width="1.2"/><text x="52.00" y="834.00" font-size="10" fill="#222" font-family="Liberation Sans, Arial, sans-serif" text-anchor="middle"></text><rect x="67.20" y="824.20" width="2.20" height="12.40" fill="#4a4a4a"/><text x="35.20" y="834.30" font-size="10" fill="#2a2a2a" font-family="Liberation Sans, Arial, sans-serif" textLength="21.00" lengthAdjust="spacingAndGlyphs">,83</text><line x1="366.00" y1="874.00" x2="376.00" y2="874.00" stroke="#555" stroke-width="1"/><rect x="376.00" y="860.70" width="28.00" height="13.00" fill="#b4b4f4"/><rect x="376.50" y="861.20" width="27.00" height="12.00" fill="none" stroke="#7070d0" stroke-width="1"/><text x="390.00" y="870.98" font-size="10.5" fill="#222" font-family="Liberation Sans, Arial, sans-serif" text-anchor="middle" textLength="22.70" lengthAdjust="spacingAndGlyphs">0,5</text><rect x="543.60" y="775.60" width="27.40" height="12.00" fill="#b4b4f4"/><rect x="544.10" y="776.10" width="26.40" height="11.00" fill="none" stroke="#7070d0" stroke-width="1"/><text x="557.30" y="785.31" font-size="10.3" fill="#222" font-family="Liberation Sans, Arial, sans-serif" text-anchor="middle" textLength="21.40" lengthAdjust="spacingAndGlyphs">5,0</text><rect x="477.00" y="917.30" width="134.00" height="14.20" fill="#cacaca"/><rect x="477.60" y="917.90" width="132.80" height="13.00" fill="none" stroke="#3a3a3a" stroke-width="1.2"/><text x="544.00" y="928.54" font-size="11.5" fill="#222" font-family="Liberation Sans, Arial, sans-serif" text-anchor="middle" textLength="29.30" lengthAdjust="spacingAndGlyphs">0,64</text><rect x="308.60" y="930.30" width="133.90" height="13.90" fill="#cacaca"/><path d="M309.20 944.20 V930.90 H441.90 V944.20" fill="none" stroke="#3a3a3a" stroke-width="1.2"/><text x="375.55" y="941.57" font-size="11.5" fill="#222" font-family="Liberation Sans, Arial, sans-serif" text-anchor="middle" textLength="21.00" lengthAdjust="spacingAndGlyphs">0,4</text><polygon points="289.40,938.00 296.40,933.40 296.40,935.60 304.70,935.60 304.70,940.40 296.40,940.40 296.40,942.60" fill="#f5a3a3"/><polygon points="462.40,938.40 455.40,933.80 455.40,936.00 446.60,936.00 446.60,940.80 455.40,940.80 455.40,943.00" fill="#f5a3a3"/><path d="M368,706 L368,716.5 L370.6,714 L372.4,718 L373.8,717.4 L372,713.5 L375.4,713.5 Z" fill="#fff" stroke="#777" stroke-width="0.8"/><g transform="translate(14 602.80) scale(0.9945 1.1640) translate(-14 0)"><rect x="13.00" y="0.00" width="860.00" height="92.00" fill="#d6dee4"/><rect x="13.00" y="0.00" width="860.00" height="1.90" fill="#858585"/><rect x="13.00" y="0.00" width="1.90" height="92.00" fill="#8e969c"/><rect x="871.60" y="0.00" width="1.40" height="92.00" fill="#b8c0c6"/><rect x="181.80" y="1.60" width="1.20" height="57.00" fill="#7a7a7a"/><rect x="183.00" y="1.60" width="1.00" height="57.00" fill="#f2f4f6"/><rect x="705.60" y="1.60" width="1.20" height="57.00" fill="#7a7a7a"/><rect x="706.80" y="1.60" width="1.00" height="57.00" fill="#f2f4f6"/><text x="99.00" y="11.20" font-size="10" fill="#111" font-family="Liberation Sans, Arial, sans-serif" font-weight="bold" text-anchor="middle" textLength="104.70" lengthAdjust="spacingAndGlyphs">Sinal de medição CH1</text><text x="257.40" y="8.80" font-size="7.7" fill="#111" font-family="DejaVu Sans, Verdana, sans-serif" font-weight="bold" text-anchor="middle" textLength="57.60" lengthAdjust="spacingAndGlyphs">Fonte trigger</text><text x="386.60" y="8.80" font-size="7.7" fill="#111" font-family="DejaVu Sans, Verdana, sans-serif" font-weight="bold" text-anchor="middle" textLength="56.00" lengthAdjust="spacingAndGlyphs">Modo trigger</text><text x="515.30" y="8.80" font-size="7.7" fill="#111" font-family="DejaVu Sans, Verdana, sans-serif" font-weight="bold" text-anchor="middle" textLength="57.40" lengthAdjust="spacingAndGlyphs">Bordo trigger</text><text x="789.80" y="10.60" font-size="10" fill="#3c3c3c" font-family="Liberation Sans, Arial, sans-serif" font-weight="bold" text-anchor="middle" textLength="105.30" lengthAdjust="spacingAndGlyphs">Sinal de medição CH2</text><rect x="17.00" y="13.80" width="163.00" height="17.80" fill="#f0f0f0"/><rect x="17.50" y="14.30" width="162.00" height="16.80" fill="none" stroke="#7c7c7c" stroke-width="1"/><rect x="162.00" y="15.30" width="17.00" height="14.80" fill="#f6f6f6"/><line x1="162.00" y1="30.40" x2="179.00" y2="30.40" stroke="#6a6a6a" stroke-width="1.4"/><polygon points="166.50,20.70 174.50,20.70 170.50,24.90" fill="#8a8a8a"/><text x="20.20" y="25.50" font-size="9.6" fill="#b8b8b8" font-family="Liberation Sans, Arial, sans-serif">U-CH1</text><rect x="192.60" y="12.30" width="127.40" height="16.00" fill="#f0f0f0"/><rect x="193.10" y="12.80" width="126.40" height="15.00" fill="none" stroke="#7c7c7c" stroke-width="1"/><rect x="302.00" y="13.80" width="17.00" height="13.00" fill="#f6f6f6"/><line x1="302.00" y1="27.10" x2="319.00" y2="27.10" stroke="#6a6a6a" stroke-width="1.4"/><polygon points="306.50,18.30 314.50,18.30 310.50,22.50" fill="#8a8a8a"/><text x="195.80" y="21.90" font-size="8.9" fill="#b8b8b8" font-family="Liberation Sans, Arial, sans-serif">CH1 auto</text><rect x="322.00" y="12.30" width="127.00" height="16.00" fill="#f0f0f0"/><rect x="322.50" y="12.80" width="126.00" height="15.00" fill="none" stroke="#7c7c7c" stroke-width="1"/><rect x="431.00" y="13.80" width="17.00" height="13.00" fill="#f6f6f6"/><line x1="431.00" y1="27.10" x2="448.00" y2="27.10" stroke="#6a6a6a" stroke-width="1.4"/><polygon points="435.50,18.30 443.50,18.30 439.50,22.50" fill="#8a8a8a"/><text x="325.20" y="21.90" font-size="8.9" fill="#b8b8b8" font-family="Liberation Sans, Arial, sans-serif">Nível auto</text><rect x="451.00" y="12.30" width="127.60" height="16.60" fill="#f0f0f0"/><rect x="451.50" y="12.80" width="126.60" height="15.60" fill="none" stroke="#7c7c7c" stroke-width="1"/><rect x="560.60" y="13.80" width="17.00" height="13.60" fill="#f6f6f6"/><line x1="560.60" y1="27.70" x2="577.60" y2="27.70" stroke="#6a6a6a" stroke-width="1.4"/><polygon points="565.10,18.60 573.10,18.60 569.10,22.80" fill="#8a8a8a"/><text x="454.20" y="21.90" font-size="8.9" fill="#b8b8b8" font-family="Liberation Sans, Arial, sans-serif">Positivo</text><rect x="708.60" y="14.00" width="161.40" height="16.80" fill="#f0f0f0"/><rect x="709.10" y="14.50" width="160.40" height="15.80" fill="none" stroke="#7c7c7c" stroke-width="1"/><rect x="852.00" y="15.50" width="17.00" height="13.80" fill="#f6f6f6"/><line x1="852.00" y1="29.60" x2="869.00" y2="29.60" stroke="#6a6a6a" stroke-width="1.4"/><polygon points="856.50,20.40 864.50,20.40 860.50,24.60" fill="#8a8a8a"/><text x="711.80" y="25.50" font-size="9.6" fill="#b8b8b8" font-family="Liberation Sans, Arial, sans-serif">I-CH2 pinça 30A</text><rect x="581.70" y="12.00" width="118.30" height="13.40" fill="#d6dee4"/><line x1="581.70" y1="12.50" x2="700.00" y2="12.50" stroke="#f4f6f8" stroke-width="1"/><line x1="582.20" y1="12.00" x2="582.20" y2="25.40" stroke="#f4f6f8" stroke-width="1"/><line x1="581.70" y1="24.60" x2="700.00" y2="24.60" stroke="#3c3c3c" stroke-width="1.6"/><line x1="699.20" y1="12.00" x2="699.20" y2="25.40" stroke="#3c3c3c" stroke-width="1.6"/><text x="640.85" y="22.30" font-size="10" fill="#5e5e5e" font-family="Liberation Sans, Arial, sans-serif" text-anchor="middle" textLength="22.50" lengthAdjust="spacingAndGlyphs">Filtro</text><rect x="581.70" y="27.60" width="118.30" height="13.40" fill="#d6dee4"/><line x1="581.70" y1="28.10" x2="700.00" y2="28.10" stroke="#f4f6f8" stroke-width="1"/><line x1="582.20" y1="27.60" x2="582.20" y2="41.00" stroke="#f4f6f8" stroke-width="1"/><line x1="581.70" y1="40.20" x2="700.00" y2="40.20" stroke="#3c3c3c" stroke-width="1.6"/><line x1="699.20" y1="27.60" x2="699.20" y2="41.00" stroke="#3c3c3c" stroke-width="1.6"/><text x="640.85" y="37.90" font-size="10" fill="#5e5e5e" font-family="Liberation Sans, Arial, sans-serif" text-anchor="middle" textLength="73.00" lengthAdjust="spacingAndGlyphs">Figura individual</text><rect x="581.70" y="42.80" width="118.30" height="13.40" fill="#d6dee4"/><line x1="581.70" y1="43.30" x2="700.00" y2="43.30" stroke="#f4f6f8" stroke-width="1"/><line x1="582.20" y1="42.80" x2="582.20" y2="56.20" stroke="#f4f6f8" stroke-width="1"/><line x1="581.70" y1="55.40" x2="700.00" y2="55.40" stroke="#3c3c3c" stroke-width="1.6"/><line x1="699.20" y1="42.80" x2="699.20" y2="56.20" stroke="#3c3c3c" stroke-width="1.6"/><text x="640.85" y="53.10" font-size="10" fill="#5e5e5e" font-family="Liberation Sans, Arial, sans-serif" text-anchor="middle" textLength="48.50" lengthAdjust="spacingAndGlyphs">Referência</text><text x="139.50" y="39.60" font-size="10" fill="#111" font-family="Liberation Sans, Arial, sans-serif" font-weight="bold" text-anchor="middle" textLength="31.00" lengthAdjust="spacingAndGlyphs">CA/CC</text><text x="257.40" y="36.50" font-size="7.7" fill="#111" font-family="DejaVu Sans, Verdana, sans-serif" font-weight="bold" text-anchor="middle" textLength="80.30" lengthAdjust="spacingAndGlyphs">Selecção cilindros</text><text x="387.10" y="36.50" font-size="7.7" fill="#111" font-family="DejaVu Sans, Verdana, sans-serif" font-weight="bold" text-anchor="middle" textLength="70.80" lengthAdjust="spacingAndGlyphs">Tipo de medição</text><text x="748.80" y="39.50" font-size="10" fill="#3c3c3c" font-family="Liberation Sans, Arial, sans-serif" font-weight="bold" text-anchor="middle" textLength="31.60" lengthAdjust="spacingAndGlyphs">CA/CC</text><rect x="16.70" y="33.10" width="59.10" height="21.60" fill="#d6dee4"/><rect x="17.45" y="33.85" width="57.60" height="20.10" fill="none" stroke="#8a949a" stroke-width="1.5"/><text x="46.25" y="47.30" font-size="9.5" fill="#505a62" font-family="Liberation Sans, Arial, sans-serif" font-weight="bold" text-anchor="middle" textLength="22.00" lengthAdjust="spacingAndGlyphs">CH 1</text><rect x="78.00" y="42.10" width="102.00" height="18.00" fill="#f0f0f0"/><rect x="78.50" y="42.60" width="101.00" height="17.00" fill="none" stroke="#7c7c7c" stroke-width="1"/><rect x="162.00" y="43.60" width="17.00" height="15.00" fill="#f6f6f6"/><line x1="162.00" y1="58.90" x2="179.00" y2="58.90" stroke="#6a6a6a" stroke-width="1.4"/><polygon points="166.50,49.10 174.50,49.10 170.50,53.30" fill="#8a8a8a"/><text x="81.20" y="52.60" font-size="9.6" fill="#b8b8b8" font-family="Liberation Sans, Arial, sans-serif">CC</text><rect x="192.60" y="41.00" width="127.40" height="18.00" fill="#f0f0f0"/><rect x="193.10" y="41.50" width="126.40" height="17.00" fill="none" stroke="#7c7c7c" stroke-width="1"/><rect x="302.00" y="42.50" width="17.00" height="15.00" fill="#f6f6f6"/><line x1="302.00" y1="57.80" x2="319.00" y2="57.80" stroke="#6a6a6a" stroke-width="1.4"/><polygon points="306.50,48.00 314.50,48.00 310.50,52.20" fill="#8a8a8a"/><text x="195.80" y="50.60" font-size="8.9" fill="#b8b8b8" font-family="Liberation Sans, Arial, sans-serif">Cilindro 1</text><rect x="322.00" y="41.00" width="127.00" height="18.00" fill="#f0f0f0"/><rect x="322.50" y="41.50" width="126.00" height="17.00" fill="none" stroke="#7c7c7c" stroke-width="1"/><rect x="431.00" y="42.50" width="17.00" height="15.00" fill="#f6f6f6"/><line x1="431.00" y1="57.80" x2="448.00" y2="57.80" stroke="#6a6a6a" stroke-width="1.4"/><polygon points="435.50,48.00 443.50,48.00 439.50,52.20" fill="#8a8a8a"/><text x="325.20" y="50.60" font-size="8.9" fill="#b8b8b8" font-family="Liberation Sans, Arial, sans-serif">Amostras</text><rect x="708.60" y="42.00" width="95.90" height="18.00" fill="#f0f0f0"/><rect x="709.10" y="42.50" width="94.90" height="17.00" fill="none" stroke="#7c7c7c" stroke-width="1"/><rect x="786.50" y="43.50" width="17.00" height="15.00" fill="#f6f6f6"/><line x1="786.50" y1="58.80" x2="803.50" y2="58.80" stroke="#6a6a6a" stroke-width="1.4"/><polygon points="791.00,49.00 799.00,49.00 795.00,53.20" fill="#8a8a8a"/><text x="711.80" y="52.50" font-size="9.6" fill="#b8b8b8" font-family="Liberation Sans, Arial, sans-serif">CC</text><rect x="809.50" y="33.60" width="60.50" height="20.80" fill="#d6dee4"/><line x1="809.50" y1="34.10" x2="870.00" y2="34.10" stroke="#f4f6f8" stroke-width="1"/><line x1="810.00" y1="33.60" x2="810.00" y2="54.40" stroke="#f4f6f8" stroke-width="1"/><line x1="809.50" y1="53.60" x2="870.00" y2="53.60" stroke="#3c3c3c" stroke-width="1.6"/><line x1="869.20" y1="33.60" x2="869.20" y2="54.40" stroke="#3c3c3c" stroke-width="1.6"/><text x="839.75" y="47.60" font-size="9.5" fill="#3c3c3c" font-family="Liberation Sans, Arial, sans-serif" font-weight="bold" text-anchor="middle" textLength="22.00" lengthAdjust="spacingAndGlyphs">CH 2</text><rect x="13.00" y="57.20" width="860.00" height="2.60" fill="#eef1f3"/><rect x="13.00" y="59.80" width="860.00" height="1.20" fill="#6e6e6e"/><rect x="13.00" y="61.00" width="860.00" height="1.60" fill="#e6eaec"/><rect x="13.00" y="62.60" width="860.00" height="29.40" fill="#d6dee4"/><text x="15.90" y="70.90" font-size="9.6" fill="#111" font-family="Liberation Sans, Arial, sans-serif" font-weight="bold" textLength="23.40" lengthAdjust="spacingAndGlyphs">CH1:</text><text x="61.50" y="73.50" font-size="10" fill="#333" font-family="Liberation Sans, Arial, sans-serif" textLength="36.50" lengthAdjust="spacingAndGlyphs">Efectivo</text><text x="61.50" y="88.20" font-size="10" fill="#333" font-family="Liberation Sans, Arial, sans-serif" textLength="27.50" lengthAdjust="spacingAndGlyphs">Médio</text><rect x="152.50" y="63.00" width="54.50" height="13.00" fill="#ffffff"/><line x1="152.50" y1="63.50" x2="207.00" y2="63.50" stroke="#9a9a9a" stroke-width="1"/><line x1="153.00" y1="63.00" x2="153.00" y2="76.00" stroke="#9a9a9a" stroke-width="1"/><text x="205.00" y="73.40" font-size="10" fill="#333" font-family="Liberation Sans, Arial, sans-serif" text-anchor="end">3,54</text><text x="209.60" y="73.40" font-size="10" fill="#333" font-family="Liberation Sans, Arial, sans-serif">V</text><rect x="152.50" y="77.50" width="54.50" height="12.50" fill="#ffffff"/><line x1="152.50" y1="78.00" x2="207.00" y2="78.00" stroke="#9a9a9a" stroke-width="1"/><line x1="153.00" y1="77.50" x2="153.00" y2="90.00" stroke="#9a9a9a" stroke-width="1"/><text x="205.00" y="87.40" font-size="10" fill="#333" font-family="Liberation Sans, Arial, sans-serif" text-anchor="end">2,86</text><text x="209.60" y="87.40" font-size="10" fill="#333" font-family="Liberation Sans, Arial, sans-serif">V</text><text x="249.00" y="73.30" font-size="10" fill="#333" font-family="Liberation Sans, Arial, sans-serif">Mín</text><text x="249.00" y="87.80" font-size="10" fill="#333" font-family="Liberation Sans, Arial, sans-serif">Máx</text><rect x="305.60" y="63.00" width="56.40" height="13.00" fill="#ffffff"/><line x1="305.60" y1="63.50" x2="362.00" y2="63.50" stroke="#9a9a9a" stroke-width="1"/><line x1="306.10" y1="63.00" x2="306.10" y2="76.00" stroke="#9a9a9a" stroke-width="1"/><text x="360.00" y="73.40" font-size="10" fill="#333" font-family="Liberation Sans, Arial, sans-serif" text-anchor="end">0,50</text><text x="364.00" y="73.40" font-size="10" fill="#333" font-family="Liberation Sans, Arial, sans-serif">V</text><rect x="305.60" y="77.50" width="56.40" height="12.50" fill="#ffffff"/><line x1="305.60" y1="78.00" x2="362.00" y2="78.00" stroke="#9a9a9a" stroke-width="1"/><line x1="306.10" y1="77.50" x2="306.10" y2="90.00" stroke="#9a9a9a" stroke-width="1"/><text x="360.00" y="87.40" font-size="10" fill="#333" font-family="Liberation Sans, Arial, sans-serif" text-anchor="end">5,10</text><text x="364.00" y="87.40" font-size="10" fill="#333" font-family="Liberation Sans, Arial, sans-serif">V</text><text x="394.70" y="73.30" font-size="10" fill="#333" font-family="Liberation Sans, Arial, sans-serif">pico-pico</text><text x="394.70" y="87.80" font-size="10" fill="#333" font-family="Liberation Sans, Arial, sans-serif">Impulso</text><rect x="491.00" y="63.00" width="58.70" height="13.00" fill="#ffffff"/><line x1="491.00" y1="63.50" x2="549.70" y2="63.50" stroke="#9a9a9a" stroke-width="1"/><line x1="491.50" y1="63.00" x2="491.50" y2="76.00" stroke="#9a9a9a" stroke-width="1"/><text x="547.70" y="73.40" font-size="10" fill="#333" font-family="Liberation Sans, Arial, sans-serif" text-anchor="end">4,60</text><text x="551.00" y="73.40" font-size="10" fill="#333" font-family="Liberation Sans, Arial, sans-serif">V</text><rect x="491.00" y="77.50" width="58.70" height="12.50" fill="#ffffff"/><line x1="491.00" y1="78.00" x2="549.70" y2="78.00" stroke="#9a9a9a" stroke-width="1"/><line x1="491.50" y1="77.50" x2="491.50" y2="90.00" stroke="#9a9a9a" stroke-width="1"/><text x="547.70" y="87.40" font-size="10" fill="#333" font-family="Liberation Sans, Arial, sans-serif" text-anchor="end">138,0</text><text x="551.00" y="87.40" font-size="10" fill="#333" font-family="Liberation Sans, Arial, sans-serif">µs</text><text x="592.50" y="73.30" font-size="10" fill="#333" font-family="Liberation Sans, Arial, sans-serif">t/T</text><text x="592.50" y="87.80" font-size="10" fill="#333" font-family="Liberation Sans, Arial, sans-serif">Frequência</text><rect x="684.70" y="63.00" width="55.30" height="13.00" fill="#ffffff"/><line x1="684.70" y1="63.50" x2="740.00" y2="63.50" stroke="#9a9a9a" stroke-width="1"/><line x1="685.20" y1="63.00" x2="685.20" y2="76.00" stroke="#9a9a9a" stroke-width="1"/><text x="738.00" y="73.40" font-size="10" fill="#333" font-family="Liberation Sans, Arial, sans-serif" text-anchor="end">53,9</text><text x="741.50" y="73.40" font-size="10" fill="#333" font-family="Liberation Sans, Arial, sans-serif">%</text><rect x="684.70" y="77.50" width="55.30" height="12.50" fill="#ffffff"/><line x1="684.70" y1="78.00" x2="740.00" y2="78.00" stroke="#9a9a9a" stroke-width="1"/><line x1="685.20" y1="77.50" x2="685.20" y2="90.00" stroke="#9a9a9a" stroke-width="1"/><text x="738.00" y="87.40" font-size="10" fill="#333" font-family="Liberation Sans, Arial, sans-serif" text-anchor="end">3,9</text><text x="741.50" y="87.40" font-size="10" fill="#333" font-family="Liberation Sans, Arial, sans-serif">kHz</text><rect x="780.60" y="62.70" width="87.20" height="25.70" fill="#d6dee4"/><line x1="780.60" y1="63.20" x2="867.80" y2="63.20" stroke="#f4f6f8" stroke-width="1"/><line x1="781.10" y1="62.70" x2="781.10" y2="88.40" stroke="#f4f6f8" stroke-width="1"/><line x1="780.60" y1="87.60" x2="867.80" y2="87.60" stroke="#3c3c3c" stroke-width="1.6"/><line x1="867.00" y1="62.70" x2="867.00" y2="88.40" stroke="#3c3c3c" stroke-width="1.6"/><text x="824.20" y="79.15" font-size="10" fill="#222" font-family="Liberation Sans, Arial, sans-serif" text-anchor="middle" textLength="65.00" lengthAdjust="spacingAndGlyphs">Entre cursores</text><rect x="13.00" y="91.20" width="860.00" height="1.40" fill="#6e6e6e"/></g><rect x="12.00" y="1442.40" width="864.00" height="274.20" fill="#f0f0f0"/><rect x="14.00" y="1442.40" width="855.50" height="274.20" fill="#ffffff"/><rect x="12.60" y="1442.40" width="1.40" height="274.20" fill="#a8b0b6"/><rect x="869.50" y="1442.40" width="1.50" height="274.20" fill="#eceef0"/><rect x="871.00" y="1442.40" width="4.50" height="274.20" fill="#d9dee2"/><rect x="875.50" y="1442.40" width="0.50" height="274.20" fill="#eef1f4"/><rect x="12.00" y="1716.60" width="864.00" height="5.80" fill="#d5dde3"/><line x1="69.60" y1="1469.10" x2="816.30" y2="1469.10" stroke="#cfcfcf" stroke-width="1" stroke-dasharray="1.5 1" stroke-opacity="0.75"/><line x1="69.60" y1="1477.42" x2="816.30" y2="1477.42" stroke="#cfcfcf" stroke-width="1" stroke-dasharray="1.5 1" stroke-opacity="0.75"/><line x1="69.60" y1="1533.35" x2="816.30" y2="1533.35" stroke="#cfcfcf" stroke-width="1" stroke-dasharray="1.5 1" stroke-opacity="0.75"/><line x1="69.60" y1="1589.28" x2="816.30" y2="1589.28" stroke="#cfcfcf" stroke-width="1" stroke-dasharray="1.5 1" stroke-opacity="0.75"/><line x1="69.60" y1="1645.20" x2="816.30" y2="1645.20" stroke="#cfcfcf" stroke-width="1" stroke-dasharray="1.5 1" stroke-opacity="0.75"/><line x1="103.30" y1="1469.10" x2="103.30" y2="1693.80" stroke="#d8d8d8" stroke-width="1.2" stroke-dasharray="1.5 1" stroke-opacity="0.75"/><line x1="241.05" y1="1469.10" x2="241.05" y2="1693.80" stroke="#d8d8d8" stroke-width="1.2" stroke-dasharray="1.5 1" stroke-opacity="0.75"/><line x1="378.80" y1="1469.10" x2="378.80" y2="1693.80" stroke="#d8d8d8" stroke-width="1.2" stroke-dasharray="1.5 1" stroke-opacity="0.75"/><line x1="516.55" y1="1469.10" x2="516.55" y2="1693.80" stroke="#d8d8d8" stroke-width="1.2" stroke-dasharray="1.5 1" stroke-opacity="0.75"/><line x1="654.30" y1="1469.10" x2="654.30" y2="1693.80" stroke="#d8d8d8" stroke-width="1.2" stroke-dasharray="1.5 1" stroke-opacity="0.75"/><line x1="792.05" y1="1469.10" x2="792.05" y2="1693.80" stroke="#d8d8d8" stroke-width="1.2" stroke-dasharray="1.5 1" stroke-opacity="0.75"/><line x1="816.30" y1="1469.10" x2="816.30" y2="1693.80" stroke="#d8d8d8" stroke-width="1.2" stroke-dasharray="1.5 1" stroke-opacity="0.75"/><line x1="69.60" y1="1580.60" x2="816.30" y2="1580.60" stroke="#b4b4b4" stroke-width="1"/><line x1="206.20" y1="1469.10" x2="206.20" y2="1700.00" stroke="#a0a0a0" stroke-width="1"/><line x1="391.30" y1="1469.10" x2="391.30" y2="1684.00" stroke="#b4b4b4" stroke-width="1"/><line x1="69.60" y1="1469.10" x2="69.60" y2="1693.80" stroke="#5a5a5a" stroke-width="1.1"/><line x1="69.60" y1="1693.80" x2="816.30" y2="1693.80" stroke="#5a5a5a" stroke-width="1.1"/><text x="18.80" y="1458.50" font-size="15.4" fill="#2c2cff" font-family="Liberation Sans, Arial, sans-serif" textLength="60.70" lengthAdjust="spacingAndGlyphs" stroke="#2c2cff" stroke-width="0.3">U-CH1</text><rect x="253.50" y="1443.20" width="90.50" height="16.20" fill="#cbcbcb"/><text x="256.20" y="1454.30" font-size="11" fill="#2a2a2a" font-family="Liberation Sans, Arial, sans-serif" textLength="83.70" lengthAdjust="spacingAndGlyphs">&lt; 134,8µs &gt;</text><text x="17.40" y="1480.80" font-size="10.9" fill="#2c2cff" font-family="Liberation Sans, Arial, sans-serif" textLength="10.10" lengthAdjust="spacingAndGlyphs">V</text><text x="66.00" y="1482.19" font-size="12.2" fill="#2c2cff" font-family="Liberation Sans, Arial, sans-serif" text-anchor="end" textLength="21.40" lengthAdjust="spacingAndGlyphs">7,5</text><text x="66.00" y="1538.34" font-size="12.2" fill="#2c2cff" font-family="Liberation Sans, Arial, sans-serif" text-anchor="end" textLength="21.40" lengthAdjust="spacingAndGlyphs">5,0</text><text x="66.00" y="1594.27" font-size="12.2" fill="#2c2cff" font-family="Liberation Sans, Arial, sans-serif" text-anchor="end" textLength="21.40" lengthAdjust="spacingAndGlyphs">2,5</text><text x="66.00" y="1650.19" font-size="12.2" fill="#2c2cff" font-family="Liberation Sans, Arial, sans-serif" text-anchor="end" textLength="21.40" lengthAdjust="spacingAndGlyphs">0,0</text><text x="103.30" y="1706.20" font-size="12" fill="#a9a9a9" font-family="Liberation Sans, Arial, sans-serif" text-anchor="middle" textLength="6.80" lengthAdjust="spacingAndGlyphs">0</text><text x="241.05" y="1706.20" font-size="12" fill="#a9a9a9" font-family="Liberation Sans, Arial, sans-serif" text-anchor="middle" textLength="20.40" lengthAdjust="spacingAndGlyphs">100</text><text x="378.80" y="1706.20" font-size="12" fill="#a9a9a9" font-family="Liberation Sans, Arial, sans-serif" text-anchor="middle" textLength="20.40" lengthAdjust="spacingAndGlyphs">200</text><text x="516.55" y="1706.20" font-size="12" fill="#a9a9a9" font-family="Liberation Sans, Arial, sans-serif" text-anchor="middle" textLength="20.40" lengthAdjust="spacingAndGlyphs">300</text><text x="654.30" y="1706.20" font-size="12" fill="#a9a9a9" font-family="Liberation Sans, Arial, sans-serif" text-anchor="middle" textLength="20.40" lengthAdjust="spacingAndGlyphs">400</text><text x="792.05" y="1706.20" font-size="12" fill="#a9a9a9" font-family="Liberation Sans, Arial, sans-serif" text-anchor="middle" textLength="20.40" lengthAdjust="spacingAndGlyphs">500</text><text x="796.05" y="1714.60" font-size="12" fill="#a9a9a9" font-family="Liberation Sans, Arial, sans-serif" text-anchor="middle" textLength="12.00" lengthAdjust="spacingAndGlyphs">µs</text><polyline points="69.6,1634.5 71.1,1635.1 72.6,1634.9 74.1,1634.3 75.6,1634.2 77.1,1634.7 78.6,1635.1 80.1,1634.7 81.6,1634.1 83.1,1634.3 84.6,1634.9 86.1,1635.0 87.2,1631.4 87.7,1630.1 88.2,1628.7 88.7,1627.2 89.2,1625.8 89.7,1624.3 90.2,1622.8 90.7,1621.3 91.2,1619.7 91.7,1618.1 92.2,1616.5 92.7,1614.9 93.2,1613.1 93.7,1611.3 94.2,1609.5 94.7,1607.6 95.2,1605.8 95.7,1604.1 96.2,1602.4 96.7,1600.8 97.2,1599.3 97.7,1597.8 98.2,1596.3 98.7,1594.9 99.2,1593.5 99.7,1592.0 100.2,1590.6 100.7,1589.2 101.2,1587.8 101.7,1586.3 102.2,1584.8 102.7,1583.3 103.2,1581.9 103.7,1580.4 104.2,1579.0 104.7,1577.5 105.2,1576.1 105.7,1574.8 106.2,1573.5 106.7,1572.2 107.2,1571.1 107.7,1569.9 108.2,1568.9 108.7,1567.8 109.2,1566.8 109.7,1565.9 110.2,1564.9 110.7,1564.0 111.2,1563.1 111.7,1562.3 112.2,1561.4 112.7,1560.5 113.2,1559.7 113.7,1558.8 114.2,1558.0 114.7,1557.2 115.2,1556.4 115.7,1555.6 116.2,1554.9 116.7,1554.2 117.2,1553.5 117.7,1552.9 118.2,1552.3 118.7,1551.6 119.2,1551.0 119.7,1550.4 120.2,1549.8 120.7,1549.3 121.2,1548.8 121.7,1548.4 122.2,1548.1 122.7,1547.9 123.2,1547.7 123.7,1547.5 124.2,1547.4 124.7,1547.2 125.2,1547.1 125.7,1547.0 126.2,1546.9 126.7,1546.8 127.2,1546.7 127.7,1546.1 128.2,1545.9 128.7,1546.0 129.2,1546.4 129.7,1546.7 130.2,1546.6 130.7,1546.2 131.2,1545.8 131.7,1545.5 132.2,1545.4 132.7,1545.2 133.2,1544.7 133.7,1544.0 134.2,1543.5 134.7,1543.4 135.2,1543.5 135.7,1543.7 136.2,1543.6 136.7,1543.3 137.2,1542.9 137.7,1542.8 138.2,1542.8 138.7,1542.6 139.2,1542.0 139.7,1541.2 140.2,1540.5 140.7,1540.0 141.2,1539.9 141.7,1539.7 142.2,1539.2 142.7,1538.5 143.2,1537.9 143.7,1537.6 144.2,1537.5 144.7,1537.2 145.2,1536.6 145.7,1535.7 146.2,1534.8 146.7,1534.2 147.2,1533.8 147.7,1533.4 148.2,1532.9 148.7,1532.4 149.2,1532.1 149.7,1532.4 150.2,1532.9 150.7,1533.5 151.2,1533.7 151.7,1533.7 152.2,1533.8 152.7,1534.0 153.2,1534.3 153.7,1534.4 154.2,1534.1 154.7,1533.6 155.2,1533.3 155.7,1533.4 156.2,1533.8 156.7,1534.1 157.2,1534.1 157.7,1533.9 158.2,1533.8 158.7,1533.9 159.2,1534.1 159.7,1534.1 160.2,1533.9 160.7,1533.5 161.2,1533.3 161.7,1533.6 162.2,1534.1 162.7,1534.6 163.2,1535.0 163.7,1535.1 164.2,1535.4 164.7,1535.9 165.2,1536.4 165.7,1536.6 166.2,1536.4 166.7,1535.9 167.2,1535.5 167.7,1535.4 168.2,1535.5 168.7,1535.4 169.2,1535.2 169.7,1534.9 170.2,1534.8 170.7,1535.0 171.2,1535.5 171.7,1535.8 172.2,1535.7 172.7,1535.3 173.2,1535.0 173.7,1534.9 174.2,1534.9 174.7,1534.7 175.2,1534.2 175.7,1533.6 176.2,1533.3 176.7,1533.4 177.2,1533.7 177.7,1534.0 178.2,1534.0 178.7,1533.9 179.2,1533.8 179.7,1533.9 180.2,1534.1 180.7,1534.1 181.2,1533.7 181.7,1533.1 182.2,1532.7 182.7,1532.7 183.2,1532.9 183.7,1533.0 184.2,1532.9 184.7,1532.8 185.2,1532.8 185.7,1533.1 186.2,1533.4 186.7,1533.5 187.2,1533.3 187.7,1532.7 188.2,1532.3 188.7,1532.2 189.2,1532.2 189.7,1532.2 190.2,1531.9 190.7,1531.6 191.2,1531.5 191.7,1531.8 192.2,1532.3 192.7,1532.5 193.2,1532.5 193.7,1532.2 194.2,1532.1 194.7,1532.2 195.2,1532.2 195.7,1532.4 196.2,1532.6 196.7,1532.8 197.2,1533.3 197.7,1534.1 198.2,1535.2 198.7,1536.5 199.2,1538.1 199.7,1540.2 200.2,1543.1 200.7,1546.5 201.2,1550.4 201.7,1555.5 202.2,1561.8 202.7,1568.8 203.2,1576.3 203.7,1584.1 204.2,1594.3 204.7,1606.2 205.2,1617.6 205.7,1626.3 206.2,1630.0 206.7,1631.5 207.2,1632.7 207.7,1633.4 208.2,1633.9 208.7,1634.2 209.2,1634.4 209.7,1634.5 210.2,1634.7 210.7,1634.8 211.2,1634.9 211.7,1635.1 212.2,1635.2 212.7,1635.3 213.2,1635.4 213.7,1635.5 214.2,1635.5 214.7,1635.6 215.2,1635.6 215.7,1635.6 216.2,1635.5 216.7,1635.4 217.2,1635.2 217.7,1635.0 218.2,1634.8 218.7,1634.4 219.2,1634.1 219.7,1633.7 220.2,1633.3 220.7,1632.8 221.2,1632.3 221.7,1631.8 223.2,1631.0 225.2,1631.9 227.2,1632.4 229.2,1631.3 231.2,1631.5 233.2,1630.7 235.2,1630.5 237.2,1631.8 239.2,1631.6 241.2,1632.1 243.2,1632.1 245.2,1630.7 247.2,1631.0 249.2,1630.9 251.2,1631.0 253.2,1632.4 255.2,1631.8 257.2,1631.7 259.2,1631.5 261.2,1630.3 263.2,1631.1 265.2,1631.5 267.2,1631.5 269.2,1632.5 271.2,1631.5 273.2,1631.0 275.2,1631.1 277.2,1630.4 279.2,1631.6 281.2,1632.1 281.4,1631.4 281.9,1630.1 282.4,1628.7 282.9,1627.2 283.4,1625.8 283.9,1624.3 284.4,1622.8 284.9,1621.3 285.4,1619.7 285.9,1618.1 286.4,1616.5 286.9,1614.9 287.4,1613.1 287.9,1611.3 288.4,1609.5 288.9,1607.6 289.4,1605.8 289.9,1604.1 290.4,1602.4 290.9,1600.8 291.4,1599.3 291.9,1597.8 292.4,1596.3 292.9,1594.9 293.4,1593.5 293.9,1592.0 294.4,1590.6 294.9,1589.2 295.4,1587.8 295.9,1586.3 296.4,1584.8 296.9,1583.3 297.4,1581.9 297.9,1580.4 298.4,1579.0 298.9,1577.5 299.4,1576.1 299.9,1574.8 300.4,1573.5 300.9,1572.2 301.4,1571.1 301.9,1569.9 302.4,1568.9 302.9,1567.8 303.4,1566.8 303.9,1565.9 304.4,1564.9 304.9,1564.0 305.4,1563.1 305.9,1562.3 306.4,1561.4 306.9,1560.5 307.4,1559.7 307.9,1558.8 308.4,1558.0 308.9,1557.2 309.4,1556.4 309.9,1555.6 310.4,1554.9 310.9,1554.2 311.4,1553.5 311.9,1552.9 312.4,1552.3 312.9,1551.6 313.4,1551.0 313.9,1550.4 314.4,1549.8 314.9,1549.3 315.4,1548.8 315.9,1548.4 316.4,1548.1 316.9,1547.9 317.4,1547.7 317.9,1547.5 318.4,1547.4 318.9,1547.2 319.4,1547.1 319.9,1547.0 320.4,1546.9 320.9,1546.8 321.4,1546.7 321.9,1546.3 322.4,1546.7 322.9,1547.0 323.4,1546.9 323.9,1546.6 324.4,1546.1 324.9,1545.8 325.4,1545.7 325.9,1545.5 326.4,1545.1 326.9,1544.5 327.4,1544.0 327.9,1543.8 328.4,1544.0 328.9,1544.2 329.4,1544.1 329.9,1543.8 330.4,1543.5 330.9,1543.3 331.4,1543.3 331.9,1543.1 332.4,1542.6 332.9,1541.8 333.4,1541.1 333.9,1540.7 334.4,1540.6 334.9,1540.5 335.4,1540.2 335.9,1539.7 336.4,1539.2 336.9,1538.9 337.4,1538.7 337.9,1538.3 338.4,1537.6 338.9,1536.6 339.4,1535.7 339.9,1535.1 340.4,1534.7 340.9,1534.3 341.4,1533.7 341.9,1533.0 342.4,1532.6 342.9,1532.6 343.4,1532.9 343.9,1533.3 344.4,1533.4 344.9,1533.3 345.4,1533.3 345.9,1533.4 346.4,1533.8 346.9,1534.0 347.4,1533.9 347.9,1533.6 348.4,1533.4 348.9,1533.5 349.4,1533.9 349.9,1534.3 350.4,1534.3 350.9,1534.1 351.4,1534.0 351.9,1534.0 352.4,1534.2 352.9,1534.1 353.4,1533.8 353.9,1533.3 354.4,1532.9 354.9,1533.0 355.4,1533.5 355.9,1534.0 356.4,1534.4 356.9,1534.6 357.4,1535.0 357.9,1535.5 358.4,1536.2 358.9,1536.5 359.4,1536.4 359.9,1536.0 360.4,1535.6 360.9,1535.4 361.4,1535.5 361.9,1535.5 362.4,1535.3 362.9,1535.0 363.4,1534.9 363.9,1535.2 364.4,1535.6 364.9,1535.9 365.4,1535.9 365.9,1535.6 366.4,1535.2 366.9,1535.1 367.4,1535.0 367.9,1534.9 368.4,1534.4 368.9,1533.9 369.4,1533.5 369.9,1533.6 370.4,1533.9 370.9,1534.2 371.4,1534.2 371.9,1534.1 372.4,1533.9 372.9,1534.0 373.4,1534.2 373.9,1534.2 374.4,1533.8 374.9,1533.2 375.4,1532.8 375.9,1532.7 376.4,1533.0 376.9,1533.1 377.4,1533.1 377.9,1533.0 378.4,1532.9 378.9,1533.2 379.4,1533.6 379.9,1533.7 380.4,1533.4 380.9,1532.9 381.4,1532.4 381.9,1532.3 382.4,1532.3 382.9,1532.3 383.4,1532.1 383.9,1531.8 384.4,1531.7 384.9,1532.0 385.4,1532.4 385.9,1532.7 386.4,1532.6 386.9,1532.3 387.4,1532.0 387.9,1532.0 388.4,1532.2 388.9,1532.2 389.4,1532.2 389.9,1532.4 390.4,1532.6 390.9,1532.8 391.4,1533.3 391.9,1534.1 392.4,1535.2 392.9,1536.5 393.4,1538.1 393.9,1540.2 394.4,1543.1 394.9,1546.5 395.4,1550.4 395.9,1555.5 396.4,1561.8 396.9,1568.8 397.4,1576.3 397.9,1584.1 398.4,1594.3 398.9,1606.2 399.4,1617.6 399.9,1626.3 400.4,1630.0 400.9,1631.5 401.4,1632.7 401.9,1633.4 402.4,1633.9 402.9,1634.2 403.4,1634.4 403.9,1634.5 404.4,1634.7 404.9,1634.8 405.4,1634.9 405.9,1635.1 406.4,1635.2 406.9,1635.3 407.4,1635.4 407.9,1635.5 408.4,1635.5 408.9,1635.6 409.4,1635.6 409.9,1635.6 410.4,1635.5 410.9,1635.4 411.4,1635.2 411.9,1635.0 412.4,1634.8 412.9,1634.4 413.4,1634.1 413.9,1633.7 414.4,1633.3 414.9,1632.8 415.4,1632.3 415.9,1631.8 417.4,1630.5 419.4,1632.0 421.4,1631.9 423.4,1631.8 425.4,1632.0 427.4,1630.6 429.4,1630.8 431.4,1631.2 433.4,1631.1 435.4,1632.4 437.4,1631.9 439.4,1631.3 441.4,1631.4 443.4,1630.3 445.4,1631.0 447.4,1631.9 449.4,1631.6 451.4,1632.4 453.4,1631.5 455.4,1630.6 457.4,1631.2 459.4,1630.7 461.4,1631.6 463.4,1632.4 465.4,1631.6 467.4,1631.8 469.4,1631.0 471.4,1630.4 473.4,1631.5 475.4,1631.3 475.6,1631.4 476.1,1630.1 476.6,1628.7 477.1,1627.2 477.6,1625.8 478.1,1624.3 478.6,1622.8 479.1,1621.3 479.6,1619.7 480.1,1618.1 480.6,1616.5 481.1,1614.9 481.6,1613.1 482.1,1611.3 482.6,1609.5 483.1,1607.6 483.6,1605.8 484.1,1604.1 484.6,1602.4 485.1,1600.8 485.6,1599.3 486.1,1597.8 486.6,1596.3 487.1,1594.9 487.6,1593.5 488.1,1592.0 488.6,1590.6 489.1,1589.2 489.6,1587.8 490.1,1586.3 490.6,1584.8 491.1,1583.3 491.6,1581.9 492.1,1580.4 492.6,1579.0 493.1,1577.5 493.6,1576.1 494.1,1574.8 494.6,1573.5 495.1,1572.2 495.6,1571.1 496.1,1569.9 496.6,1568.9 497.1,1567.8 497.6,1566.8 498.1,1565.9 498.6,1564.9 499.1,1564.0 499.6,1563.1 500.1,1562.3 500.6,1561.4 501.1,1560.5 501.6,1559.7 502.1,1558.8 502.6,1558.0 503.1,1557.2 503.6,1556.4 504.1,1555.6 504.6,1554.9 505.1,1554.2 505.6,1553.5 506.1,1552.9 506.6,1552.3 507.1,1551.6 507.6,1551.0 508.1,1550.4 508.6,1549.8 509.1,1549.3 509.6,1548.8 510.1,1548.4 510.6,1548.1 511.1,1547.9 511.6,1547.7 512.1,1547.5 512.6,1547.4 513.1,1547.2 513.6,1547.1 514.1,1547.0 514.6,1546.9 515.1,1546.8 515.6,1546.7 516.1,1547.2 516.6,1547.2 517.1,1546.9 517.6,1546.4 518.1,1546.1 518.6,1546.0 519.1,1545.9 519.6,1545.5 520.1,1544.9 520.6,1544.4 521.1,1544.3 521.6,1544.5 522.1,1544.7 522.6,1544.7 523.1,1544.4 523.6,1544.0 524.1,1543.8 524.6,1543.8 525.1,1543.6 525.6,1543.1 526.1,1542.4 526.6,1541.6 527.1,1541.3 527.6,1541.2 528.1,1541.2 528.6,1541.0 529.1,1540.6 529.6,1540.2 530.1,1540.0 530.6,1539.8 531.1,1539.5 531.6,1538.8 532.1,1537.8 532.6,1536.7 533.1,1536.0 533.6,1535.6 534.1,1535.2 534.6,1534.7 535.1,1534.0 535.6,1533.5 536.1,1533.3 536.6,1533.4 537.1,1533.6 537.6,1533.5 538.1,1533.1 538.6,1532.9 539.1,1532.9 539.6,1533.2 540.1,1533.5 540.6,1533.5 541.1,1533.3 541.6,1533.2 542.1,1533.5 542.6,1534.0 543.1,1534.4 543.6,1534.5 544.1,1534.4 544.6,1534.2 545.1,1534.2 545.6,1534.3 546.1,1534.2 546.6,1533.9 547.1,1533.3 547.6,1532.9 548.1,1532.8 548.6,1533.1 549.1,1533.6 549.6,1533.9 550.1,1534.1 550.6,1534.4 551.1,1535.0 551.6,1535.7 552.1,1536.2 552.6,1536.2 553.1,1535.9 553.6,1535.5 554.1,1535.4 554.6,1535.5 555.1,1535.6 555.6,1535.4 556.1,1535.2 556.6,1535.1 557.1,1535.3 557.6,1535.8 558.1,1536.1 558.6,1536.1 559.1,1535.7 559.6,1535.4 560.1,1535.2 560.6,1535.2 561.1,1535.1 561.6,1534.7 562.1,1534.2 562.6,1533.8 563.1,1533.9 563.6,1534.2 564.1,1534.5 564.6,1534.5 565.1,1534.3 565.6,1534.1 566.1,1534.1 566.6,1534.3 567.1,1534.2 567.6,1533.8 568.1,1533.3 568.6,1532.9 569.1,1532.8 569.6,1533.0 570.1,1533.3 570.6,1533.3 571.1,1533.2 571.6,1533.1 572.1,1533.3 572.6,1533.7 573.1,1533.8 573.6,1533.5 574.1,1533.0 574.6,1532.5 575.1,1532.3 575.6,1532.4 576.1,1532.4 576.6,1532.2 577.1,1532.0 577.6,1531.9 578.1,1532.1 578.6,1532.6 579.1,1532.9 579.6,1532.8 580.1,1532.4 580.6,1532.1 581.1,1532.0 581.6,1532.0 582.1,1532.0 582.6,1531.7 583.1,1531.5 583.6,1532.2 584.1,1532.4 584.6,1532.6 585.1,1532.8 585.6,1533.3 586.1,1534.1 586.6,1535.2 587.1,1536.5 587.6,1538.1 588.1,1540.2 588.6,1543.1 589.1,1546.5 589.6,1550.4 590.1,1555.5 590.6,1561.8 591.1,1568.8 591.6,1576.3 592.1,1584.1 592.6,1594.3 593.1,1606.2 593.6,1617.6 594.1,1626.3 594.6,1630.0 595.1,1631.5 595.6,1632.7 596.1,1633.4 596.6,1633.9 597.1,1634.2 597.6,1634.4 598.1,1634.5 598.6,1634.7 599.1,1634.8 599.6,1634.9 600.1,1635.1 600.6,1635.2 601.1,1635.3 601.6,1635.4 602.1,1635.5 602.6,1635.5 603.1,1635.6 603.6,1635.6 604.1,1635.6 604.6,1635.5 605.1,1635.4 605.6,1635.2 606.1,1635.0 606.6,1634.8 607.1,1634.4 607.6,1634.1 608.1,1633.7 608.6,1633.3 609.1,1632.8 609.6,1632.3 610.1,1631.8 611.6,1630.6 613.6,1631.5 615.6,1631.3 617.6,1632.3 619.6,1632.0 621.6,1630.9 623.6,1631.2 625.6,1630.5 627.6,1631.0 629.6,1632.2 631.6,1631.7 633.6,1632.1 635.6,1631.5 637.6,1630.4 639.6,1631.2 641.6,1631.0 643.6,1631.6 645.6,1632.5 647.6,1631.5 649.6,1631.4 651.6,1631.0 653.6,1630.3 655.6,1631.6 657.6,1631.7 659.6,1631.8 661.6,1632.3 663.6,1630.9 665.6,1630.8 667.6,1631.0 669.6,1630.8 669.8,1631.4 670.3,1630.1 670.8,1628.7 671.3,1627.2 671.8,1625.8 672.3,1624.3 672.8,1622.8 673.3,1621.3 673.8,1619.7 674.3,1618.1 674.8,1616.5 675.3,1614.9 675.8,1613.1 676.3,1611.3 676.8,1609.5 677.3,1607.6 677.8,1605.8 678.3,1604.1 678.8,1602.4 679.3,1600.8 679.8,1599.3 680.3,1597.8 680.8,1596.3 681.3,1594.9 681.8,1593.5 682.3,1592.0 682.8,1590.6 683.3,1589.2 683.8,1587.8 684.3,1586.3 684.8,1584.8 685.3,1583.3 685.8,1581.9 686.3,1580.4 686.8,1579.0 687.3,1577.5 687.8,1576.1 688.3,1574.8 688.8,1573.5 689.3,1572.2 689.8,1571.1 690.3,1569.9 690.8,1568.9 691.3,1567.8 691.8,1566.8 692.3,1565.9 692.8,1564.9 693.3,1564.0 693.8,1563.1 694.3,1562.3 694.8,1561.4 695.3,1560.5 695.8,1559.7 696.3,1558.8 696.8,1558.0 697.3,1557.2 697.8,1556.4 698.3,1555.6 698.8,1554.9 699.3,1554.2 699.8,1553.5 700.3,1552.9 700.8,1552.3 701.3,1551.6 701.8,1551.0 702.3,1550.4 702.8,1549.8 703.3,1549.3 703.8,1548.8 704.3,1548.4 704.8,1548.1 705.3,1547.9 705.8,1547.7 706.3,1547.5 706.8,1547.4 707.3,1547.2 707.8,1547.1 708.3,1547.0 708.8,1546.9 709.3,1546.8 709.8,1546.7 710.3,1547.1 710.8,1546.7 711.3,1546.4 711.8,1546.3 712.3,1546.2 712.8,1545.8 713.3,1545.3 713.8,1544.8 714.3,1544.7 714.8,1544.9 715.3,1545.2 715.8,1545.2 716.3,1544.9 716.8,1544.5 717.3,1544.3 717.8,1544.2 718.3,1544.0 718.8,1543.6 719.3,1542.9 719.8,1542.2 720.3,1541.8 720.8,1541.8 721.3,1541.8 721.8,1541.7 722.3,1541.4 722.8,1541.0 723.3,1540.8 723.8,1540.8 724.3,1540.6 724.8,1540.0 725.3,1539.0 725.8,1537.9 726.3,1537.1 726.8,1536.6 727.3,1536.2 727.8,1535.7 728.3,1535.0 728.8,1534.5 729.3,1534.2 729.8,1534.2 730.3,1534.2 730.8,1533.9 731.3,1533.4 731.8,1532.9 732.3,1532.7 732.8,1532.8 733.3,1533.0 733.8,1533.0 734.3,1532.8 734.8,1532.8 735.3,1533.2 735.8,1533.8 736.3,1534.4 736.8,1534.7 737.3,1534.6 737.8,1534.4 738.3,1534.3 738.8,1534.4 739.3,1534.4 739.8,1534.0 740.3,1533.4 740.8,1533.0 741.3,1532.8 741.8,1533.1 742.3,1533.4 742.8,1533.6 743.3,1533.7 743.8,1533.9 744.3,1534.4 744.8,1535.0 745.3,1535.6 745.8,1535.7 746.3,1535.5 746.8,1535.3 747.3,1535.3 747.8,1535.4 748.3,1535.6 748.8,1535.5 749.3,1535.3 749.8,1535.2 750.3,1535.5 750.8,1535.9 751.3,1536.3 751.8,1536.2 752.3,1535.9 752.8,1535.5 753.3,1535.3 753.8,1535.3 754.3,1535.2 754.8,1534.9 755.3,1534.4 755.8,1534.1 756.3,1534.1 756.8,1534.5 757.3,1534.8 757.8,1534.8 758.3,1534.6 758.8,1534.3 759.3,1534.2 759.8,1534.3 760.3,1534.3 760.8,1533.9 761.3,1533.4 761.8,1532.9 762.3,1532.9 762.8,1533.1 763.3,1533.4 763.8,1533.5 764.3,1533.3 764.8,1533.3 765.3,1533.5 765.8,1533.8 766.3,1533.9 766.8,1533.7 767.3,1533.1 767.8,1532.6 768.3,1532.4 768.8,1532.5 769.3,1532.5 769.8,1532.4 770.3,1532.2 770.8,1532.1 771.3,1532.3 771.8,1532.7 772.3,1533.0 772.8,1533.0 773.3,1532.6 773.8,1532.2 774.3,1532.0 774.8,1532.0 775.3,1532.0 775.8,1531.7 776.3,1531.3 776.8,1531.2 777.3,1531.5 777.8,1532.2 778.3,1532.4 778.8,1532.6 779.3,1532.8 779.8,1533.3 780.3,1534.1 780.8,1535.2 781.3,1536.5 781.8,1538.1 782.3,1540.2 782.8,1543.1 783.3,1546.5 783.8,1550.4 784.3,1555.5 784.8,1561.8 785.3,1568.8 785.8,1576.3 786.3,1584.1 786.8,1594.3 787.3,1606.2 787.8,1617.6 788.3,1626.3 788.8,1630.0 789.3,1631.5 789.8,1632.7 790.3,1633.4 790.8,1633.9 791.3,1634.2 791.8,1634.4 792.3,1634.5 792.8,1634.7 793.3,1634.8 793.8,1634.9 794.3,1635.1 794.8,1635.2 795.3,1635.3 795.8,1635.4 796.3,1635.5 796.8,1635.5 797.3,1635.6 797.8,1635.6 798.3,1635.6 798.8,1635.5 799.3,1635.4 799.8,1635.2 800.3,1635.0 800.8,1634.8 801.3,1634.4 801.8,1634.1 802.3,1633.7 802.8,1633.3 803.3,1632.8 803.8,1632.3 804.3,1631.8 805.8,1631.0 807.8,1630.8 809.8,1631.1 811.8,1632.4 813.8,1631.8 815.8,1631.7 816.3,1631.7" fill="none" stroke="#0c0cf0" stroke-width="1.85" stroke-linejoin="round"/><polygon points="69.60,1645.40 75.60,1641.10 81.60,1641.10 81.60,1649.70 75.60,1649.70" fill="#6c6c6c"/><polygon points="97.80,1685.30 108.80,1685.30 103.30,1693.80" fill="#5c5c5c"/><rect x="69.40" y="1470.00" width="54.20" height="20.60" fill="#b4b4f4"/><rect x="70.00" y="1470.60" width="53.00" height="19.40" fill="none" stroke="#1c1c24" stroke-width="1.3"/><rect x="94.22" y="1470.00" width="2.60" height="20.60" fill="#1c1c24"/><line x1="72.70" y1="1477.62" x2="93.02" y2="1477.62" stroke="#22222e" stroke-width="1.7"/><line x1="72.70" y1="1482.98" x2="93.02" y2="1482.98" stroke="#22222e" stroke-width="1.7"/><line x1="100.82" y1="1477.62" x2="120.40" y2="1477.62" stroke="#1a1a2a" stroke-width="1.7"/><line x1="100.82" y1="1482.98" x2="120.40" y2="1482.98" stroke="#1a1a2a" stroke-width="1.7"/><polygon points="98.82,1477.62 102.82,1475.62 102.82,1479.62" fill="#1a1a2a"/><polygon points="98.82,1482.98 102.82,1480.98 102.82,1484.98" fill="#1a1a2a"/><rect x="416.00" y="1470.20" width="53.50" height="20.60" fill="#c4c4c4"/><rect x="416.75" y="1470.95" width="52.00" height="19.10" fill="none" stroke="#151515" stroke-width="1.5"/><rect x="441.08" y="1470.20" width="2.60" height="20.60" fill="#151515"/><polyline points="421.08,1487.92 428.63,1487.92 428.63,1472.67 435.69,1472.67" fill="none" stroke="#151515" stroke-width="1.5"/><polyline points="423.92,1482.56 428.63,1479.47 433.01,1482.56" fill="none" stroke="#151515" stroke-width="1.5"/><text x="455.86" y="1485.86" font-size="14.832" fill="#111" font-family="Liberation Sans, Arial, sans-serif" text-anchor="middle" stroke="#111" stroke-width="0.5">1</text><rect x="14.70" y="1561.30" width="19.90" height="42.10" fill="#b4b4f4"/><rect x="15.20" y="1561.80" width="18.90" height="41.10" fill="none" stroke="#7070d0" stroke-width="1"/><text x="0" y="0" font-size="10.5" fill="#222" stroke="#222" stroke-width="0.3" font-family="Liberation Sans, Arial, sans-serif" text-anchor="middle" transform="translate(28.45 1582.35) rotate(-90)" textLength="37.10" lengthAdjust="spacingAndGlyphs">&lt; 4,4 &gt;</text><rect x="34.60" y="1574.70" width="35.00" height="13.80" fill="#cacaca"/><rect x="35.20" y="1575.30" width="33.80" height="12.60" fill="none" stroke="#3a3a3a" stroke-width="1.2"/><text x="52.10" y="1585.56" font-size="11" fill="#222" font-family="Liberation Sans, Arial, sans-serif" text-anchor="middle"></text><rect x="67.40" y="1574.70" width="2.20" height="13.80" fill="#4a4a4a"/><text x="35.20" y="1586.00" font-size="11" fill="#2a2a2a" font-family="Liberation Sans, Arial, sans-serif" textLength="21.50" lengthAdjust="spacingAndGlyphs">,87</text><line x1="196.00" y1="1631.40" x2="207.00" y2="1631.40" stroke="#555" stroke-width="1"/><rect x="207.00" y="1616.00" width="25.80" height="13.50" fill="#b4b4f4"/><rect x="207.50" y="1616.50" width="24.80" height="12.50" fill="none" stroke="#7070d0" stroke-width="1"/><text x="219.90" y="1627.07" font-size="12" fill="#222" font-family="Liberation Sans, Arial, sans-serif" text-anchor="middle" textLength="21.40" lengthAdjust="spacingAndGlyphs">0,6</text><rect x="391.20" y="1519.20" width="27.70" height="13.80" fill="#b4b4f4"/><rect x="391.70" y="1519.70" width="26.70" height="12.80" fill="none" stroke="#7070d0" stroke-width="1"/><text x="405.05" y="1530.42" font-size="12" fill="#222" font-family="Liberation Sans, Arial, sans-serif" text-anchor="middle" textLength="21.00" lengthAdjust="spacingAndGlyphs">5,0</text><rect x="324.90" y="1684.00" width="134.10" height="17.00" fill="#cacaca"/><rect x="325.50" y="1684.60" width="132.90" height="15.80" fill="none" stroke="#3a3a3a" stroke-width="1.2"/><text x="391.95" y="1697.18" font-size="13" fill="#222" font-family="Liberation Sans, Arial, sans-serif" text-anchor="middle" textLength="38.80" lengthAdjust="spacingAndGlyphs">209,1</text><rect x="139.70" y="1700.00" width="132.70" height="16.60" fill="#cacaca"/><path d="M140.30 1716.60 V1700.60 H271.80 V1716.60" fill="none" stroke="#3a3a3a" stroke-width="1.2"/><text x="206.05" y="1712.74" font-size="13" fill="#222" font-family="Liberation Sans, Arial, sans-serif" text-anchor="middle" textLength="30.60" lengthAdjust="spacingAndGlyphs">74,3</text><g transform="translate(14 1318.00) scale(0.9960 1.3550) translate(-14 0)"><rect x="13.00" y="0.00" width="860.00" height="92.00" fill="#d6dee4"/><rect x="13.00" y="0.00" width="860.00" height="1.90" fill="#858585"/><rect x="13.00" y="0.00" width="1.90" height="92.00" fill="#8e969c"/><rect x="871.60" y="0.00" width="1.40" height="92.00" fill="#b8c0c6"/><rect x="181.80" y="1.60" width="1.20" height="57.00" fill="#7a7a7a"/><rect x="183.00" y="1.60" width="1.00" height="57.00" fill="#f2f4f6"/><rect x="705.60" y="1.60" width="1.20" height="57.00" fill="#7a7a7a"/><rect x="706.80" y="1.60" width="1.00" height="57.00" fill="#f2f4f6"/><text x="99.00" y="11.20" font-size="10" fill="#111" font-family="Liberation Sans, Arial, sans-serif" font-weight="bold" text-anchor="middle" textLength="104.70" lengthAdjust="spacingAndGlyphs">Sinal de medição CH1</text><text x="257.40" y="8.80" font-size="7.7" fill="#111" font-family="DejaVu Sans, Verdana, sans-serif" font-weight="bold" text-anchor="middle" textLength="57.60" lengthAdjust="spacingAndGlyphs">Fonte trigger</text><text x="386.60" y="8.80" font-size="7.7" fill="#111" font-family="DejaVu Sans, Verdana, sans-serif" font-weight="bold" text-anchor="middle" textLength="56.00" lengthAdjust="spacingAndGlyphs">Modo trigger</text><text x="515.30" y="8.80" font-size="7.7" fill="#111" font-family="DejaVu Sans, Verdana, sans-serif" font-weight="bold" text-anchor="middle" textLength="57.40" lengthAdjust="spacingAndGlyphs">Bordo trigger</text><text x="789.80" y="10.60" font-size="10" fill="#3c3c3c" font-family="Liberation Sans, Arial, sans-serif" font-weight="bold" text-anchor="middle" textLength="105.30" lengthAdjust="spacingAndGlyphs">Sinal de medição CH2</text><rect x="17.00" y="13.80" width="163.00" height="17.80" fill="#f0f0f0"/><rect x="17.50" y="14.30" width="162.00" height="16.80" fill="none" stroke="#7c7c7c" stroke-width="1"/><rect x="162.00" y="15.30" width="17.00" height="14.80" fill="#f6f6f6"/><line x1="162.00" y1="30.40" x2="179.00" y2="30.40" stroke="#6a6a6a" stroke-width="1.4"/><polygon points="166.50,20.70 174.50,20.70 170.50,24.90" fill="#8a8a8a"/><text x="20.20" y="25.50" font-size="9.6" fill="#b8b8b8" font-family="Liberation Sans, Arial, sans-serif">U-CH1</text><rect x="192.60" y="12.30" width="127.40" height="16.00" fill="#f0f0f0"/><rect x="193.10" y="12.80" width="126.40" height="15.00" fill="none" stroke="#7c7c7c" stroke-width="1"/><rect x="302.00" y="13.80" width="17.00" height="13.00" fill="#f6f6f6"/><line x1="302.00" y1="27.10" x2="319.00" y2="27.10" stroke="#6a6a6a" stroke-width="1.4"/><polygon points="306.50,18.30 314.50,18.30 310.50,22.50" fill="#8a8a8a"/><text x="195.80" y="21.90" font-size="8.9" fill="#b8b8b8" font-family="Liberation Sans, Arial, sans-serif">CH1 auto</text><rect x="322.00" y="12.30" width="127.00" height="16.00" fill="#f0f0f0"/><rect x="322.50" y="12.80" width="126.00" height="15.00" fill="none" stroke="#7c7c7c" stroke-width="1"/><rect x="431.00" y="13.80" width="17.00" height="13.00" fill="#f6f6f6"/><line x1="431.00" y1="27.10" x2="448.00" y2="27.10" stroke="#6a6a6a" stroke-width="1.4"/><polygon points="435.50,18.30 443.50,18.30 439.50,22.50" fill="#8a8a8a"/><text x="325.20" y="21.90" font-size="8.9" fill="#b8b8b8" font-family="Liberation Sans, Arial, sans-serif">Nível auto</text><rect x="451.00" y="12.30" width="127.60" height="16.60" fill="#f0f0f0"/><rect x="451.50" y="12.80" width="126.60" height="15.60" fill="none" stroke="#7c7c7c" stroke-width="1"/><rect x="560.60" y="13.80" width="17.00" height="13.60" fill="#f6f6f6"/><line x1="560.60" y1="27.70" x2="577.60" y2="27.70" stroke="#6a6a6a" stroke-width="1.4"/><polygon points="565.10,18.60 573.10,18.60 569.10,22.80" fill="#8a8a8a"/><text x="454.20" y="21.90" font-size="8.9" fill="#b8b8b8" font-family="Liberation Sans, Arial, sans-serif">Positivo</text><rect x="708.60" y="14.00" width="161.40" height="16.80" fill="#f0f0f0"/><rect x="709.10" y="14.50" width="160.40" height="15.80" fill="none" stroke="#7c7c7c" stroke-width="1"/><rect x="852.00" y="15.50" width="17.00" height="13.80" fill="#f6f6f6"/><line x1="852.00" y1="29.60" x2="869.00" y2="29.60" stroke="#6a6a6a" stroke-width="1.4"/><polygon points="856.50,20.40 864.50,20.40 860.50,24.60" fill="#8a8a8a"/><text x="711.80" y="25.50" font-size="9.6" fill="#b8b8b8" font-family="Liberation Sans, Arial, sans-serif">I-CH2 pinça 30A</text><rect x="581.70" y="12.00" width="118.30" height="13.40" fill="#d6dee4"/><line x1="581.70" y1="12.50" x2="700.00" y2="12.50" stroke="#f4f6f8" stroke-width="1"/><line x1="582.20" y1="12.00" x2="582.20" y2="25.40" stroke="#f4f6f8" stroke-width="1"/><line x1="581.70" y1="24.60" x2="700.00" y2="24.60" stroke="#3c3c3c" stroke-width="1.6"/><line x1="699.20" y1="12.00" x2="699.20" y2="25.40" stroke="#3c3c3c" stroke-width="1.6"/><text x="640.85" y="22.30" font-size="10" fill="#5e5e5e" font-family="Liberation Sans, Arial, sans-serif" text-anchor="middle" textLength="22.50" lengthAdjust="spacingAndGlyphs">Filtro</text><rect x="581.70" y="27.60" width="118.30" height="13.40" fill="#d6dee4"/><line x1="581.70" y1="28.10" x2="700.00" y2="28.10" stroke="#f4f6f8" stroke-width="1"/><line x1="582.20" y1="27.60" x2="582.20" y2="41.00" stroke="#f4f6f8" stroke-width="1"/><line x1="581.70" y1="40.20" x2="700.00" y2="40.20" stroke="#3c3c3c" stroke-width="1.6"/><line x1="699.20" y1="27.60" x2="699.20" y2="41.00" stroke="#3c3c3c" stroke-width="1.6"/><text x="640.85" y="37.90" font-size="10" fill="#5e5e5e" font-family="Liberation Sans, Arial, sans-serif" text-anchor="middle" textLength="73.00" lengthAdjust="spacingAndGlyphs">Figura individual</text><rect x="581.70" y="42.80" width="118.30" height="13.40" fill="#d6dee4"/><line x1="581.70" y1="43.30" x2="700.00" y2="43.30" stroke="#f4f6f8" stroke-width="1"/><line x1="582.20" y1="42.80" x2="582.20" y2="56.20" stroke="#f4f6f8" stroke-width="1"/><line x1="581.70" y1="55.40" x2="700.00" y2="55.40" stroke="#3c3c3c" stroke-width="1.6"/><line x1="699.20" y1="42.80" x2="699.20" y2="56.20" stroke="#3c3c3c" stroke-width="1.6"/><text x="640.85" y="53.10" font-size="10" fill="#5e5e5e" font-family="Liberation Sans, Arial, sans-serif" text-anchor="middle" textLength="48.50" lengthAdjust="spacingAndGlyphs">Referência</text><text x="139.50" y="39.60" font-size="10" fill="#111" font-family="Liberation Sans, Arial, sans-serif" font-weight="bold" text-anchor="middle" textLength="31.00" lengthAdjust="spacingAndGlyphs">CA/CC</text><text x="257.40" y="36.50" font-size="7.7" fill="#111" font-family="DejaVu Sans, Verdana, sans-serif" font-weight="bold" text-anchor="middle" textLength="80.30" lengthAdjust="spacingAndGlyphs">Selecção cilindros</text><text x="387.10" y="36.50" font-size="7.7" fill="#111" font-family="DejaVu Sans, Verdana, sans-serif" font-weight="bold" text-anchor="middle" textLength="70.80" lengthAdjust="spacingAndGlyphs">Tipo de medição</text><text x="748.80" y="39.50" font-size="10" fill="#3c3c3c" font-family="Liberation Sans, Arial, sans-serif" font-weight="bold" text-anchor="middle" textLength="31.60" lengthAdjust="spacingAndGlyphs">CA/CC</text><rect x="16.70" y="33.10" width="59.10" height="21.60" fill="#d6dee4"/><rect x="17.45" y="33.85" width="57.60" height="20.10" fill="none" stroke="#8a949a" stroke-width="1.5"/><text x="46.25" y="47.30" font-size="9.5" fill="#505a62" font-family="Liberation Sans, Arial, sans-serif" font-weight="bold" text-anchor="middle" textLength="22.00" lengthAdjust="spacingAndGlyphs">CH 1</text><rect x="78.00" y="42.10" width="102.00" height="18.00" fill="#f0f0f0"/><rect x="78.50" y="42.60" width="101.00" height="17.00" fill="none" stroke="#7c7c7c" stroke-width="1"/><rect x="162.00" y="43.60" width="17.00" height="15.00" fill="#f6f6f6"/><line x1="162.00" y1="58.90" x2="179.00" y2="58.90" stroke="#6a6a6a" stroke-width="1.4"/><polygon points="166.50,49.10 174.50,49.10 170.50,53.30" fill="#8a8a8a"/><text x="81.20" y="52.60" font-size="9.6" fill="#b8b8b8" font-family="Liberation Sans, Arial, sans-serif">CC</text><rect x="192.60" y="41.00" width="127.40" height="18.00" fill="#f0f0f0"/><rect x="193.10" y="41.50" width="126.40" height="17.00" fill="none" stroke="#7c7c7c" stroke-width="1"/><rect x="302.00" y="42.50" width="17.00" height="15.00" fill="#f6f6f6"/><line x1="302.00" y1="57.80" x2="319.00" y2="57.80" stroke="#6a6a6a" stroke-width="1.4"/><polygon points="306.50,48.00 314.50,48.00 310.50,52.20" fill="#8a8a8a"/><text x="195.80" y="50.60" font-size="8.9" fill="#b8b8b8" font-family="Liberation Sans, Arial, sans-serif">Cilindro 1</text><rect x="322.00" y="41.00" width="127.00" height="18.00" fill="#f0f0f0"/><rect x="322.50" y="41.50" width="126.00" height="17.00" fill="none" stroke="#7c7c7c" stroke-width="1"/><rect x="431.00" y="42.50" width="17.00" height="15.00" fill="#f6f6f6"/><line x1="431.00" y1="57.80" x2="448.00" y2="57.80" stroke="#6a6a6a" stroke-width="1.4"/><polygon points="435.50,48.00 443.50,48.00 439.50,52.20" fill="#8a8a8a"/><text x="325.20" y="50.60" font-size="8.9" fill="#b8b8b8" font-family="Liberation Sans, Arial, sans-serif">Amostras</text><rect x="708.60" y="42.00" width="95.90" height="18.00" fill="#f0f0f0"/><rect x="709.10" y="42.50" width="94.90" height="17.00" fill="none" stroke="#7c7c7c" stroke-width="1"/><rect x="786.50" y="43.50" width="17.00" height="15.00" fill="#f6f6f6"/><line x1="786.50" y1="58.80" x2="803.50" y2="58.80" stroke="#6a6a6a" stroke-width="1.4"/><polygon points="791.00,49.00 799.00,49.00 795.00,53.20" fill="#8a8a8a"/><text x="711.80" y="52.50" font-size="9.6" fill="#b8b8b8" font-family="Liberation Sans, Arial, sans-serif">CC</text><rect x="809.50" y="33.60" width="60.50" height="20.80" fill="#d6dee4"/><line x1="809.50" y1="34.10" x2="870.00" y2="34.10" stroke="#f4f6f8" stroke-width="1"/><line x1="810.00" y1="33.60" x2="810.00" y2="54.40" stroke="#f4f6f8" stroke-width="1"/><line x1="809.50" y1="53.60" x2="870.00" y2="53.60" stroke="#3c3c3c" stroke-width="1.6"/><line x1="869.20" y1="33.60" x2="869.20" y2="54.40" stroke="#3c3c3c" stroke-width="1.6"/><text x="839.75" y="47.60" font-size="9.5" fill="#3c3c3c" font-family="Liberation Sans, Arial, sans-serif" font-weight="bold" text-anchor="middle" textLength="22.00" lengthAdjust="spacingAndGlyphs">CH 2</text><rect x="13.00" y="57.20" width="860.00" height="2.60" fill="#eef1f3"/><rect x="13.00" y="59.80" width="860.00" height="1.20" fill="#6e6e6e"/><rect x="13.00" y="61.00" width="860.00" height="1.60" fill="#e6eaec"/><rect x="13.00" y="62.60" width="860.00" height="29.40" fill="#d6dee4"/><text x="15.90" y="70.90" font-size="9.6" fill="#111" font-family="Liberation Sans, Arial, sans-serif" font-weight="bold" textLength="23.40" lengthAdjust="spacingAndGlyphs">CH1:</text><text x="61.50" y="73.50" font-size="10" fill="#333" font-family="Liberation Sans, Arial, sans-serif" textLength="36.50" lengthAdjust="spacingAndGlyphs">Efectivo</text><text x="61.50" y="88.20" font-size="10" fill="#333" font-family="Liberation Sans, Arial, sans-serif" textLength="27.50" lengthAdjust="spacingAndGlyphs">Médio</text><rect x="152.50" y="63.00" width="54.50" height="13.00" fill="#ffffff"/><line x1="152.50" y1="63.50" x2="207.00" y2="63.50" stroke="#9a9a9a" stroke-width="1"/><line x1="153.00" y1="63.00" x2="153.00" y2="76.00" stroke="#9a9a9a" stroke-width="1"/><text x="205.00" y="73.40" font-size="10" fill="#333" font-family="Liberation Sans, Arial, sans-serif" text-anchor="end">3,35</text><text x="209.60" y="73.40" font-size="10" fill="#333" font-family="Liberation Sans, Arial, sans-serif">V</text><rect x="152.50" y="77.50" width="54.50" height="12.50" fill="#ffffff"/><line x1="152.50" y1="78.00" x2="207.00" y2="78.00" stroke="#9a9a9a" stroke-width="1"/><line x1="153.00" y1="77.50" x2="153.00" y2="90.00" stroke="#9a9a9a" stroke-width="1"/><text x="205.00" y="87.40" font-size="10" fill="#333" font-family="Liberation Sans, Arial, sans-serif" text-anchor="end">2,74</text><text x="209.60" y="87.40" font-size="10" fill="#333" font-family="Liberation Sans, Arial, sans-serif">V</text><text x="249.00" y="73.30" font-size="10" fill="#333" font-family="Liberation Sans, Arial, sans-serif">Mín</text><text x="249.00" y="87.80" font-size="10" fill="#333" font-family="Liberation Sans, Arial, sans-serif">Máx</text><rect x="305.60" y="63.00" width="56.40" height="13.00" fill="#ffffff"/><line x1="305.60" y1="63.50" x2="362.00" y2="63.50" stroke="#9a9a9a" stroke-width="1"/><line x1="306.10" y1="63.00" x2="306.10" y2="76.00" stroke="#9a9a9a" stroke-width="1"/><text x="360.00" y="73.40" font-size="10" fill="#333" font-family="Liberation Sans, Arial, sans-serif" text-anchor="end">0,40</text><text x="364.00" y="73.40" font-size="10" fill="#333" font-family="Liberation Sans, Arial, sans-serif">V</text><rect x="305.60" y="77.50" width="56.40" height="12.50" fill="#ffffff"/><line x1="305.60" y1="78.00" x2="362.00" y2="78.00" stroke="#9a9a9a" stroke-width="1"/><line x1="306.10" y1="77.50" x2="306.10" y2="90.00" stroke="#9a9a9a" stroke-width="1"/><text x="360.00" y="87.40" font-size="10" fill="#333" font-family="Liberation Sans, Arial, sans-serif" text-anchor="end">5,20</text><text x="364.00" y="87.40" font-size="10" fill="#333" font-family="Liberation Sans, Arial, sans-serif">V</text><text x="394.70" y="73.30" font-size="10" fill="#333" font-family="Liberation Sans, Arial, sans-serif">pico-pico</text><text x="394.70" y="87.80" font-size="10" fill="#333" font-family="Liberation Sans, Arial, sans-serif">Impulso</text><rect x="491.00" y="63.00" width="58.70" height="13.00" fill="#ffffff"/><line x1="491.00" y1="63.50" x2="549.70" y2="63.50" stroke="#9a9a9a" stroke-width="1"/><line x1="491.50" y1="63.00" x2="491.50" y2="76.00" stroke="#9a9a9a" stroke-width="1"/><text x="547.70" y="73.40" font-size="10" fill="#333" font-family="Liberation Sans, Arial, sans-serif" text-anchor="end">4,80</text><text x="551.00" y="73.40" font-size="10" fill="#333" font-family="Liberation Sans, Arial, sans-serif">V</text><rect x="491.00" y="77.50" width="58.70" height="12.50" fill="#ffffff"/><line x1="491.00" y1="78.00" x2="549.70" y2="78.00" stroke="#9a9a9a" stroke-width="1"/><line x1="491.50" y1="77.50" x2="491.50" y2="90.00" stroke="#9a9a9a" stroke-width="1"/><text x="547.70" y="87.40" font-size="10" fill="#333" font-family="Liberation Sans, Arial, sans-serif" text-anchor="end">72,0</text><text x="551.00" y="87.40" font-size="10" fill="#333" font-family="Liberation Sans, Arial, sans-serif">µs</text><text x="592.50" y="73.30" font-size="10" fill="#333" font-family="Liberation Sans, Arial, sans-serif">t/T</text><text x="592.50" y="87.80" font-size="10" fill="#333" font-family="Liberation Sans, Arial, sans-serif">Frequência</text><rect x="684.70" y="63.00" width="55.30" height="13.00" fill="#ffffff"/><line x1="684.70" y1="63.50" x2="740.00" y2="63.50" stroke="#9a9a9a" stroke-width="1"/><line x1="685.20" y1="63.00" x2="685.20" y2="76.00" stroke="#9a9a9a" stroke-width="1"/><text x="738.00" y="73.40" font-size="10" fill="#333" font-family="Liberation Sans, Arial, sans-serif" text-anchor="end">51,1</text><text x="741.50" y="73.40" font-size="10" fill="#333" font-family="Liberation Sans, Arial, sans-serif">%</text><rect x="684.70" y="77.50" width="55.30" height="12.50" fill="#ffffff"/><line x1="684.70" y1="78.00" x2="740.00" y2="78.00" stroke="#9a9a9a" stroke-width="1"/><line x1="685.20" y1="77.50" x2="685.20" y2="90.00" stroke="#9a9a9a" stroke-width="1"/><text x="738.00" y="87.40" font-size="10" fill="#333" font-family="Liberation Sans, Arial, sans-serif" text-anchor="end">7,1</text><text x="741.50" y="87.40" font-size="10" fill="#333" font-family="Liberation Sans, Arial, sans-serif">kHz</text><rect x="780.60" y="62.70" width="87.20" height="25.70" fill="#d6dee4"/><line x1="780.60" y1="63.20" x2="867.80" y2="63.20" stroke="#f4f6f8" stroke-width="1"/><line x1="781.10" y1="62.70" x2="781.10" y2="88.40" stroke="#f4f6f8" stroke-width="1"/><line x1="780.60" y1="87.60" x2="867.80" y2="87.60" stroke="#3c3c3c" stroke-width="1.6"/><line x1="867.00" y1="62.70" x2="867.00" y2="88.40" stroke="#3c3c3c" stroke-width="1.6"/><text x="824.20" y="79.15" font-size="10" fill="#222" font-family="Liberation Sans, Arial, sans-serif" text-anchor="middle" textLength="65.00" lengthAdjust="spacingAndGlyphs">Entre cursores</text><rect x="13.00" y="91.20" width="860.00" height="1.40" fill="#6e6e6e"/></g><text x="27.30" y="490.70" font-size="13.4" fill="#0a0a14" font-family="Liberation Sans, Arial, sans-serif" textLength="73.10" lengthAdjust="spacingAndGlyphs">Comentário:</text><text x="496.90" y="489.80" font-size="13.8" fill="#0a0a14" font-family="Liberation Sans, Arial, sans-serif" text-anchor="middle" textLength="465.70" lengthAdjust="spacingAndGlyphs">Sinal medido do pino de sinal, condição de ignição ligada e motor desligado.</text><text x="27.30" y="1058.70" font-size="13.4" fill="#0a0a14" font-family="Liberation Sans, Arial, sans-serif" textLength="73.10" lengthAdjust="spacingAndGlyphs">Comentário:</text><text x="496.90" y="1057.80" font-size="13.8" fill="#0a0a14" font-family="Liberation Sans, Arial, sans-serif" text-anchor="middle" textLength="457.70" lengthAdjust="spacingAndGlyphs">Sinal medido do pino de sinal, condição de marcha lenta e motor aquecido.</text><text x="27.30" y="1788.70" font-size="13.4" fill="#0a0a14" font-family="Liberation Sans, Arial, sans-serif" textLength="73.10" lengthAdjust="spacingAndGlyphs">Comentário:</text><text x="496.90" y="1787.80" font-size="13.8" fill="#0a0a14" font-family="Liberation Sans, Arial, sans-serif" text-anchor="middle" textLength="443.90" lengthAdjust="spacingAndGlyphs">Sinal medido do pino de sinal, condição de 3000 RPM e motor aquecido.</text><rect x="12.00" y="1113.00" width="422.00" height="34.00" fill="#00b0f0"/><rect x="437.00" y="1113.00" width="439.00" height="34.00" fill="#ff6262"/><rect x="12.00" y="1148.00" width="422.00" height="31.00" fill="#00b0f0"/><rect x="437.00" y="1148.00" width="439.00" height="31.00" fill="#ff6262"/><rect x="12.00" y="1180.00" width="422.00" height="92.00" fill="#ffffff"/><rect x="437.00" y="1180.00" width="439.00" height="92.00" fill="#ffffff"/><rect x="12.00" y="1180.00" width="103.20" height="92.00" fill="#00b0f0"/><rect x="437.00" y="1180.00" width="104.10" height="92.00" fill="#ff6262"/><rect x="12.00" y="1147.00" width="864.00" height="1.10" fill="#000"/><rect x="12.00" y="1179.00" width="864.00" height="1.10" fill="#000"/><rect x="12.00" y="1234.70" width="251.00" height="1.10" fill="#000"/><rect x="437.00" y="1234.70" width="257.00" height="1.10" fill="#000"/><rect x="114.70" y="1147.00" width="1.10" height="125.00" fill="#000"/><rect x="187.80" y="1147.00" width="1.10" height="125.00" fill="#000"/><rect x="261.00" y="1147.00" width="1.10" height="125.00" fill="#000"/><rect x="335.00" y="1147.00" width="1.10" height="125.00" fill="#000"/><rect x="540.80" y="1147.00" width="1.10" height="125.00" fill="#000"/><rect x="613.90" y="1147.00" width="1.10" height="125.00" fill="#000"/><rect x="692.50" y="1147.00" width="1.10" height="125.00" fill="#000"/><rect x="773.80" y="1147.00" width="1.10" height="125.00" fill="#000"/><text x="222.30" y="1133.80" font-size="12.5" fill="#ffffff" font-family="Liberation Sans, Arial, sans-serif" font-weight="bold" text-anchor="middle" textLength="78.60" lengthAdjust="spacingAndGlyphs">Setup Sinal 1</text><text x="655.90" y="1133.80" font-size="12.5" fill="#ffffff" font-family="Liberation Sans, Arial, sans-serif" font-weight="bold" text-anchor="middle" textLength="79.80" lengthAdjust="spacingAndGlyphs">Setup Sinal 2</text><text x="63.60" y="1162.00" font-size="10.7" fill="#ffffff" font-family="DejaVu Sans Condensed, DejaVu Sans, sans-serif" font-weight="bold" text-anchor="middle" textLength="58.20" lengthAdjust="spacingAndGlyphs">Referência</text><text x="63.60" y="1173.60" font-size="8.4" fill="#ffffff" font-family="DejaVu Sans Condensed, DejaVu Sans, sans-serif" font-weight="bold" text-anchor="middle" textLength="68.60" lengthAdjust="spacingAndGlyphs">Eixos de valores</text><text x="151.70" y="1160.80" font-size="10.7" fill="#ffffff" font-family="DejaVu Sans Condensed, DejaVu Sans, sans-serif" font-weight="bold" text-anchor="middle" textLength="40.00" lengthAdjust="spacingAndGlyphs">Tipo de</text><text x="151.70" y="1174.20" font-size="10.7" fill="#ffffff" font-family="DejaVu Sans Condensed, DejaVu Sans, sans-serif" font-weight="bold" text-anchor="middle" textLength="26.00" lengthAdjust="spacingAndGlyphs">sinal</text><text x="224.90" y="1167.30" font-size="10.7" fill="#ffffff" font-family="DejaVu Sans Condensed, DejaVu Sans, sans-serif" font-weight="bold" text-anchor="middle" textLength="64.40" lengthAdjust="spacingAndGlyphs">Valores CH1</text><text x="298.50" y="1167.40" font-size="10.7" fill="#ffffff" font-family="DejaVu Sans Condensed, DejaVu Sans, sans-serif" font-weight="bold" text-anchor="middle" textLength="37.00" lengthAdjust="spacingAndGlyphs">Trigger</text><text x="385.40" y="1167.40" font-size="10.7" fill="#ffffff" font-family="DejaVu Sans Condensed, DejaVu Sans, sans-serif" font-weight="bold" text-anchor="middle" textLength="61.80" lengthAdjust="spacingAndGlyphs">Comentário</text><text x="489.30" y="1162.00" font-size="10.7" fill="#ffffff" font-family="DejaVu Sans Condensed, DejaVu Sans, sans-serif" font-weight="bold" text-anchor="middle" textLength="58.20" lengthAdjust="spacingAndGlyphs">Referência</text><text x="489.30" y="1173.60" font-size="8.4" fill="#ffffff" font-family="DejaVu Sans Condensed, DejaVu Sans, sans-serif" font-weight="bold" text-anchor="middle" textLength="68.60" lengthAdjust="spacingAndGlyphs">Eixos de valores</text><text x="577.90" y="1160.80" font-size="10.7" fill="#ffffff" font-family="DejaVu Sans Condensed, DejaVu Sans, sans-serif" font-weight="bold" text-anchor="middle" textLength="40.00" lengthAdjust="spacingAndGlyphs">Tipo de</text><text x="577.90" y="1174.20" font-size="10.7" fill="#ffffff" font-family="DejaVu Sans Condensed, DejaVu Sans, sans-serif" font-weight="bold" text-anchor="middle" textLength="26.00" lengthAdjust="spacingAndGlyphs">sinal</text><text x="653.70" y="1167.30" font-size="10.7" fill="#ffffff" font-family="DejaVu Sans Condensed, DejaVu Sans, sans-serif" font-weight="bold" text-anchor="middle" textLength="66.00" lengthAdjust="spacingAndGlyphs">Valores CH2</text><text x="733.70" y="1167.40" font-size="10.7" fill="#ffffff" font-family="DejaVu Sans Condensed, DejaVu Sans, sans-serif" font-weight="bold" text-anchor="middle" textLength="37.00" lengthAdjust="spacingAndGlyphs">Trigger</text><text x="825.20" y="1167.40" font-size="10.7" fill="#ffffff" font-family="DejaVu Sans Condensed, DejaVu Sans, sans-serif" font-weight="bold" text-anchor="middle" textLength="61.80" lengthAdjust="spacingAndGlyphs">Comentário</text><text x="63.30" y="1205.60" font-size="8.9" fill="#ffffff" font-family="DejaVu Sans Condensed, DejaVu Sans, sans-serif" font-weight="bold" text-anchor="middle" textLength="83.00" lengthAdjust="spacingAndGlyphs">Amplitude de sinal</text><text x="63.30" y="1217.40" font-size="8.9" fill="#ffffff" font-family="DejaVu Sans Condensed, DejaVu Sans, sans-serif" font-weight="bold" text-anchor="middle" textLength="52.00" lengthAdjust="spacingAndGlyphs">(Vertical - Y)</text><text x="63.70" y="1252.50" font-size="8.9" fill="#ffffff" font-family="DejaVu Sans Condensed, DejaVu Sans, sans-serif" font-weight="bold" text-anchor="middle" textLength="38.00" lengthAdjust="spacingAndGlyphs">Duração</text><text x="63.10" y="1263.80" font-size="8.9" fill="#ffffff" font-family="DejaVu Sans Condensed, DejaVu Sans, sans-serif" font-weight="bold" text-anchor="middle" textLength="57.00" lengthAdjust="spacingAndGlyphs">(Horizontal X)</text><text x="152.90" y="1211.20" font-size="10" fill="#111" font-family="DejaVu Sans Condensed, DejaVu Sans, sans-serif" text-anchor="middle" textLength="50.00" lengthAdjust="spacingAndGlyphs" stroke="#111" stroke-width="0.25">Tensão (U)</text><text x="226.40" y="1211.20" font-size="10" fill="#111" font-family="DejaVu Sans Condensed, DejaVu Sans, sans-serif" text-anchor="middle" textLength="18.30" lengthAdjust="spacingAndGlyphs" stroke="#111" stroke-width="0.25">10V</text><text x="153.60" y="1257.60" font-size="10" fill="#111" font-family="DejaVu Sans Condensed, DejaVu Sans, sans-serif" text-anchor="middle" textLength="51.40" lengthAdjust="spacingAndGlyphs" stroke="#111" stroke-width="0.25">Tempo (us)</text><text x="226.40" y="1257.60" font-size="10" fill="#111" font-family="DejaVu Sans Condensed, DejaVu Sans, sans-serif" text-anchor="middle" textLength="16.60" lengthAdjust="spacingAndGlyphs" stroke="#111" stroke-width="0.25">500</text><text x="298.50" y="1223.00" font-size="10" fill="#111" font-family="DejaVu Sans Condensed, DejaVu Sans, sans-serif" text-anchor="middle" textLength="27.40" lengthAdjust="spacingAndGlyphs" stroke="#111" stroke-width="0.25">CH - 1</text><text x="298.90" y="1236.20" font-size="10" fill="#111" font-family="DejaVu Sans Condensed, DejaVu Sans, sans-serif" text-anchor="middle" textLength="35.00" lengthAdjust="spacingAndGlyphs" stroke="#111" stroke-width="0.25">Positivo</text><text x="386.00" y="1223.00" font-size="10" fill="#111" font-family="DejaVu Sans Condensed, DejaVu Sans, sans-serif" text-anchor="middle" textLength="69.70" lengthAdjust="spacingAndGlyphs" stroke="#111" stroke-width="0.25">Sinal de massa</text><text x="387.40" y="1236.20" font-size="10" fill="#111" font-family="DejaVu Sans Condensed, DejaVu Sans, sans-serif" text-anchor="middle" textLength="23.50" lengthAdjust="spacingAndGlyphs" stroke="#111" stroke-width="0.25">de ar</text><text x="488.90" y="1205.20" font-size="9.2" fill="#ffffff" font-family="DejaVu Sans Condensed, DejaVu Sans, sans-serif" text-anchor="middle" textLength="82.80" lengthAdjust="spacingAndGlyphs" stroke="#fff" stroke-width="0.3">Amplitude de sinal</text><text x="489.00" y="1217.90" font-size="9.2" fill="#ffffff" font-family="DejaVu Sans Condensed, DejaVu Sans, sans-serif" text-anchor="middle" textLength="56.00" lengthAdjust="spacingAndGlyphs" stroke="#fff" stroke-width="0.3">(Vertical - Y)</text><text x="489.00" y="1251.60" font-size="9.2" fill="#ffffff" font-family="DejaVu Sans Condensed, DejaVu Sans, sans-serif" text-anchor="middle" textLength="38.30" lengthAdjust="spacingAndGlyphs" stroke="#fff" stroke-width="0.3">Duração</text><text x="488.70" y="1264.80" font-size="9.2" fill="#ffffff" font-family="DejaVu Sans Condensed, DejaVu Sans, sans-serif" text-anchor="middle" textLength="63.00" lengthAdjust="spacingAndGlyphs" stroke="#fff" stroke-width="0.3">(Horizontal X)</text><text x="578.40" y="1211.30" font-size="10" fill="#111" font-family="DejaVu Sans Condensed, DejaVu Sans, sans-serif" text-anchor="middle" textLength="51.20" lengthAdjust="spacingAndGlyphs" stroke="#111" stroke-width="0.25">Corrente (I)</text><text x="578.80" y="1257.40" font-size="10" fill="#111" font-family="DejaVu Sans Condensed, DejaVu Sans, sans-serif" text-anchor="middle" textLength="54.40" lengthAdjust="spacingAndGlyphs" stroke="#111" stroke-width="0.25">Tempo (ms)</text><rect x="9.00" y="0.00" width="3.00" height="1843.00" fill="#000"/><rect x="876.00" y="0.00" width="4.00" height="1843.00" fill="#000"/><rect x="9.00" y="426.00" width="871.00" height="3.20" fill="#000"/><rect x="9.00" y="542.00" width="871.00" height="3.20" fill="#000"/><rect x="9.00" y="994.00" width="871.00" height="3.20" fill="#000"/><rect x="9.00" y="1110.00" width="871.00" height="3.20" fill="#000"/><rect x="9.00" y="1272.00" width="871.00" height="3.20" fill="#000"/><rect x="9.00" y="1724.00" width="871.00" height="3.20" fill="#000"/><rect x="9.00" y="1840.00" width="871.00" height="3.20" fill="#000"/><rect x="434.00" y="1110.00" width="3.00" height="165.00" fill="#000"/>
</svg></div></body></html>
